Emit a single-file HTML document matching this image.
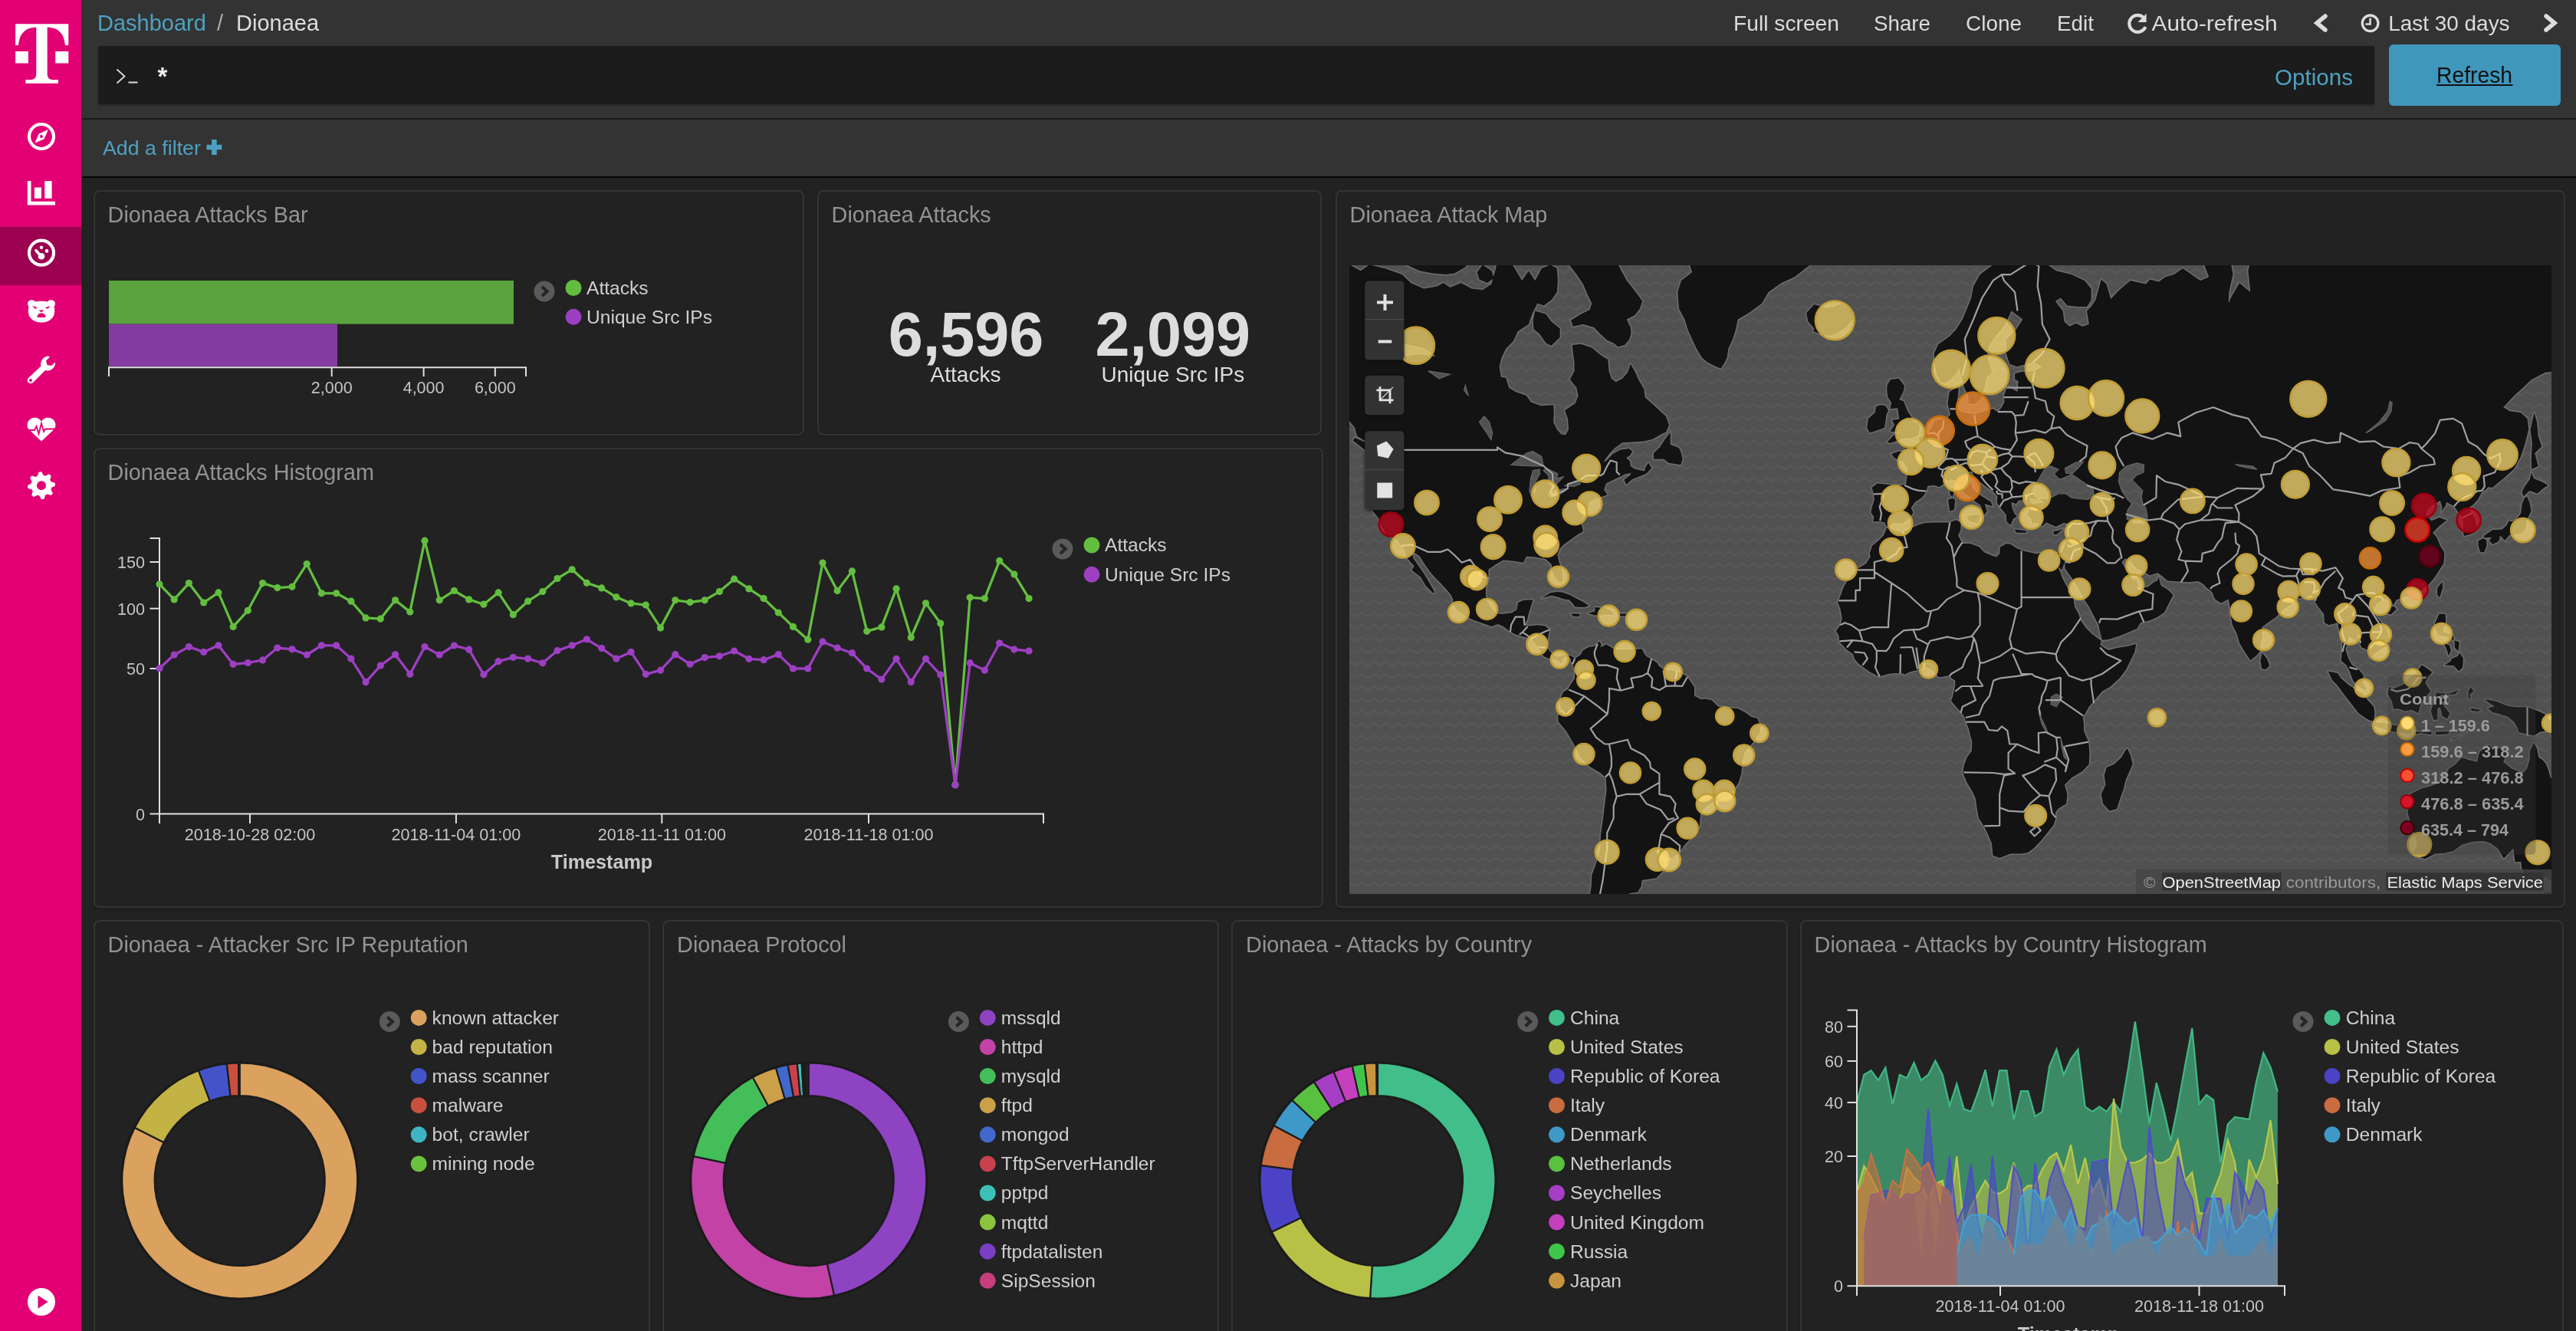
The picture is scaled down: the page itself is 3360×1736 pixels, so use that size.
<!DOCTYPE html><html><head><meta charset="utf-8"><style>html,body{margin:0;padding:0;background:#222;width:3360px;height:1736px;overflow:hidden;font-family:"Liberation Sans", sans-serif} svg{will-change:transform}</style></head><body>
<div style="position:absolute;left:122px;top:248px;width:927.0999999999999px;height:320.1px;box-sizing:border-box;border:2px solid #343434;border-radius:8px;background:#222;box-shadow:0 2px 3px rgba(0,0,0,0.18)"></div>
<div style="position:absolute;left:1066.1px;top:248px;width:657.7px;height:320.1px;box-sizing:border-box;border:2px solid #343434;border-radius:8px;background:#222;box-shadow:0 2px 3px rgba(0,0,0,0.18)"></div>
<div style="position:absolute;left:1742px;top:248px;width:1604.4px;height:935.9000000000001px;box-sizing:border-box;border:2px solid #343434;border-radius:8px;background:#222;box-shadow:0 2px 3px rgba(0,0,0,0.18)"></div>
<div style="position:absolute;left:122px;top:584px;width:1603.6px;height:599.9000000000001px;box-sizing:border-box;border:2px solid #343434;border-radius:8px;background:#222;box-shadow:0 2px 3px rgba(0,0,0,0.18)"></div>
<div style="position:absolute;left:122px;top:1200.1px;width:725.9px;height:599.9000000000001px;box-sizing:border-box;border:2px solid #343434;border-radius:8px;background:#222;box-shadow:0 2px 3px rgba(0,0,0,0.18)"></div>
<div style="position:absolute;left:863.9px;top:1200.1px;width:726.0000000000001px;height:599.9000000000001px;box-sizing:border-box;border:2px solid #343434;border-radius:8px;background:#222;box-shadow:0 2px 3px rgba(0,0,0,0.18)"></div>
<div style="position:absolute;left:1605.9px;top:1200.1px;width:725.9000000000001px;height:599.9000000000001px;box-sizing:border-box;border:2px solid #343434;border-radius:8px;background:#222;box-shadow:0 2px 3px rgba(0,0,0,0.18)"></div>
<div style="position:absolute;left:2348px;top:1200.1px;width:996px;height:599.9000000000001px;box-sizing:border-box;border:2px solid #343434;border-radius:8px;background:#222;box-shadow:0 2px 3px rgba(0,0,0,0.18)"></div>
<svg style="position:absolute;left:1760px;top:346px" width="1568" height="820" viewBox="0 0 1568 820" font-family='"Liberation Sans", sans-serif'><defs><pattern id="wv" width="16" height="16" patternUnits="userSpaceOnUse"><rect width="16" height="16" fill="#515151"/><polyline points="-8,10 0,5 8,10 16,5 24,10" fill="none" stroke="#575757" stroke-width="3"/></pattern></defs><rect width="1568" height="820" fill="url(#wv)"/><path d="M-232.7,-99.4L-33.6,-99.4L-22.2,-2.5L-10.8,5.7L-2.3,-2.5L14.8,7.3L26.1,-0.8L46.0,4.1L68.8,12.1L80.2,23.0L97.2,30.6L114.3,27.6L122.8,23.0L131.4,29.1L145.6,23.0L159.8,30.6L174.0,32.1L185.4,24.6L191.1,4.1L196.8,-30.1L205.3,-39.1L211.0,-4.2L216.7,5.7L225.2,19.9L233.8,7.3L242.3,19.9L250.8,4.1L262.2,-0.8L270.8,4.1L271.9,19.9L270.8,35.1L263.4,45.4L253.7,52.5L245.2,49.7L238.3,63.7L233.8,77.1L219.6,86.3L213.9,98.9L204.2,108.8L198.5,120.7L195.7,132.2L197.9,145.7L204.2,146.7L208.2,159.7L216.7,164.9L230.9,170.1L236.6,178.3L249.7,183.3L266.2,182.3L266.8,192.2L266.2,204.6L270.8,214.0L276.4,220.4L282.1,221.3L286.1,214.0L285.0,199.9L281.0,189.2L294.6,180.3L298.6,170.1L296.4,159.7L287.8,148.9L293.5,137.9L293.5,126.5L291.8,114.8L290.7,103.9L302.0,102.7L316.3,107.5L327.6,117.1L337.3,123.0L338.5,137.9L341.9,147.8L347.6,152.2L356.1,147.8L362.9,140.1L366.9,128.8L373.2,140.1L377.1,148.9L384.5,161.8L385.7,172.2L395.9,181.3L404.4,189.2L413.0,197.0L417.0,208.4L413.0,217.7L408.4,219.5L395.9,226.7L384.5,229.4L373.2,230.3L356.1,231.2L346.4,238.2L339.0,246.0L331.6,256.2L335.0,255.3L343.6,246.0L353.2,240.8L364.6,239.1L369.2,242.6L365.8,248.6L361.2,251.1L365.8,255.3L366.9,262.0L371.4,265.3L378.3,266.9L385.1,268.5L386.2,263.6L390.2,257.8L394.2,264.5L387.4,271.8L376.0,276.6L369.2,279.0L361.2,286.1L358.4,279.8L365.8,274.2L368.0,271.0L359.5,272.6L353.2,275.8L344.7,279.8L335.0,284.6L332.2,293.1L336.7,299.3L332.8,300.8L325.9,303.1L320.2,305.3L313.4,308.4L311.7,316.5L308.3,320.9L307.2,323.8L304.3,331.1L302.0,335.4L304.3,343.1L304.9,347.3L298.6,350.8L290.7,356.3L280.4,363.8L274.7,369.2L271.3,377.8L274.2,389.0L278.2,400.0L278.7,409.5L275.9,413.9L269.6,408.9L264.5,400.0L263.9,390.3L256.0,383.1L242.3,380.5L230.9,379.8L227.0,387.7L213.9,385.7L200.8,384.4L192.8,389.0L181.4,396.8L181.4,408.2L178.0,420.8L178.0,431.3L180.9,439.3L186.0,447.8L191.1,453.8L198.5,455.0L212.2,453.2L218.4,449.0L220.1,439.9L227.5,436.8L239.5,436.2L237.2,444.1L233.8,454.4L232.1,462.1L228.7,469.3L234.9,470.5L245.2,469.3L255.4,470.5L261.1,475.2L259.4,484.0L258.2,492.7L258.2,498.5L262.2,504.3L266.2,508.4L272.5,510.7L282.1,507.8L289.5,509.5L294.1,513.0L291.8,518.7L289.0,517.0L289.0,513.0L282.1,510.7L277.0,515.3L277.6,519.9L270.8,514.7L262.8,514.1L253.7,510.1L249.7,505.5L246.3,498.0L240.0,491.0L236.1,486.3L229.2,485.1L216.7,481.6L209.3,477.5L200.8,471.0L194.0,468.1L185.4,471.0L174.0,466.9L159.8,462.1L151.3,457.4L140.5,450.2L134.8,442.3L135.4,436.2L132.5,430.1L128.5,425.1L118.9,414.5L112.6,408.2L105.8,400.6L98.4,390.3L91.6,379.2L81.3,372.5L83.6,382.5L90.4,392.2L97.2,401.9L102.9,411.4L107.5,419.5L111.5,427.0L109.2,427.6L99.5,417.7L93.3,407.0L81.3,397.4L84.7,392.2L75.6,382.5L71.1,370.5L68.2,365.8L61.4,357.7L53.4,352.9L48.3,352.2L44.3,343.8L40.9,337.5L37.5,328.9L30.7,320.9L26.7,309.9L27.8,297.8L27.3,286.9L29.0,264.5L25.6,250.3L25.0,246.0L34.7,248.6L34.1,240.8L23.9,231.2L10.2,223.1L6.8,211.2L-6.9,195.1L-10.8,180.3L-39.3,154.3L-62.0,137.9L-96.2,132.2L-232.7,132.2ZM31.8,246.9L24.4,244.3L14.8,236.5L4.5,228.5L7.4,224.9L21.6,231.2L29.0,238.2L33.0,246.0ZM307.7,-99.4L347.6,-122.1L410.1,-78.1L418.7,-48.5L427.2,-21.2L438.6,-12.6L444.3,0.8L447.1,8.9L432.9,19.9L428.3,35.1L430.0,56.8L437.4,70.5L441.4,83.7L447.1,96.4L452.8,108.8L460.2,120.7L467.0,126.5L478.4,132.2L484.7,134.5L489.8,126.5L492.6,120.7L494.3,108.8L500.0,96.4L504.0,83.7L506.8,70.5L521.1,62.3L538.1,49.7L546.7,35.1L563.7,23.0L580.8,15.2L595.0,4.1L606.4,-4.2L614.9,-39.1L626.3,-99.4L620.6,-232.6L336.2,-232.6ZM222.4,-78.1L307.7,-78.1L324.8,-30.1L344.7,-12.6L353.2,4.1L361.8,19.9L371.4,32.1L382.3,46.8L378.8,56.8L372.6,65.0L361.8,70.5L364.1,75.8L366.9,81.1L367.5,90.1L364.6,97.7L358.9,103.9L350.4,106.3L344.7,101.4L336.2,97.7L327.6,90.1L319.1,81.1L304.9,77.1L291.8,79.8L289.0,71.8L302.0,63.7L313.4,58.1L316.3,49.7L310.6,38.1L304.9,24.6L296.4,12.1L287.8,0.8L273.6,-7.5L253.7,-4.2L239.5,-21.2L228.1,-39.1ZM242.3,59.5L239.5,71.8L240.6,83.7L247.4,88.8L256.5,101.4L263.4,105.1L274.7,93.9L274.7,82.4L263.4,73.2L256.5,63.7ZM174.0,-0.8L185.4,7.3L188.8,16.8L179.7,23.0L169.5,18.4L166.6,8.9ZM63.1,-21.2L64.2,-7.5L74.5,-0.8L91.6,7.3L108.6,10.5L125.7,12.1L137.1,10.5L151.3,2.4L159.8,-9.2L165.5,-21.2ZM418.7,217.7L411.3,227.6L405.6,236.5L397.0,245.1L397.0,252.8L410.1,252.8L416.4,257.8L432.3,260.3L434.6,252.8L432.9,245.1L430.0,238.2L418.7,233.8ZM596.2,62.3L598.4,73.2L606.4,82.4L605.3,86.3L619.5,91.4L629.2,91.4L640.5,86.3L649.1,79.8L657.0,70.5L657.0,62.3L651.3,55.3L642.2,49.7L632.0,53.9L620.6,55.3L606.4,51.1ZM251.1,434.1L262.2,427.3L270.8,426.1L277.6,426.4L287.8,430.1L296.9,435.0L304.3,438.7L312.6,444.1L306.6,445.9L294.6,445.6L291.2,441.1L286.7,436.2L279.9,435.6L271.3,432.5L263.9,430.7ZM320.2,445.9L333.3,447.2L340.7,450.2L345.3,454.4L343.0,456.2L333.3,455.6L327.6,456.8L319.1,456.2L311.1,453.8L320.2,451.4ZM289.0,454.4L300.3,454.4L300.3,458.0L292.4,458.0ZM352.1,454.4L361.2,454.4L360.6,457.4L352.1,457.4ZM294.1,513.0L302.0,507.8L304.9,502.0L312.3,498.0L320.2,496.8L326.5,490.4L328.8,495.1L327.1,498.5L335.0,494.5L338.5,496.2L346.4,501.4L357.8,500.9L370.3,500.9L381.7,500.3L384.0,505.5L387.4,510.1L393.1,513.0L401.6,518.7L403.9,522.7L410.1,527.3L421.5,528.4L428.9,530.2L440.3,535.9L450.0,550.1L450.0,561.5L458.5,566.1L464.2,565.5L472.7,567.2L481.2,575.7L495.5,577.4L506.8,578.0L515.4,582.6L523.9,588.8L532.4,591.1L536.4,601.4L535.3,610.0L529.6,618.7L522.2,627.4L515.4,636.1L512.5,647.8L511.4,662.6L508.0,674.6L501.7,683.7L495.5,692.9L486.9,696.0L478.4,699.1L467.0,705.3L458.5,713.5L456.8,730.8L448.8,743.8L438.0,755.2L430.6,765.3L422.1,773.6L413.0,771.5L405.6,770.1L401.6,768.8L409.0,774.3L411.8,783.4L407.3,791.9L400.5,799.2L381.7,802.1L380.6,810.2L376.0,817.7L364.6,819.2L367.5,829.1L347.6,890.9L347.6,937.7L319.1,918.4L313.4,848.8L315.1,825.2L314.0,819.9L315.7,810.2L316.3,795.5L320.2,784.8L323.7,774.3L327.1,760.6L328.2,740.5L331.1,721.1L333.3,702.2L335.6,683.7L334.5,668.6L328.2,662.6L313.4,653.7L300.9,641.9L295.8,630.3L289.5,618.7L282.7,607.2L273.0,595.7L271.9,588.3L277.6,580.9L274.2,574.0L274.7,567.2L278.7,556.9L285.0,553.0L288.4,547.3L294.1,538.7L294.1,527.3L291.2,520.4L291.8,518.7ZM918.2,374.5L910.8,372.5L904.5,374.5L896.5,376.5L879.5,372.5L870.9,369.2L862.4,363.8L857.3,363.1L848.7,367.8L848.2,375.9L844.2,380.5L839.6,379.2L828.3,374.5L821.4,367.2L809.5,363.1L799.8,363.1L797.5,359.0L794.1,352.2L797.5,345.2L797.5,335.4L792.4,332.5L790.2,332.5L782.8,335.4L774.2,335.4L762.8,335.4L751.5,336.1L742.9,338.2L731.6,343.1L721.9,348.0L713.9,346.6L704.2,342.4L700.8,343.1L696.9,352.2L691.2,358.3L682.1,365.8L678.6,375.9L679.8,379.8L674.1,389.0L663.3,395.5L658.2,400.6L651.9,408.2L645.7,417.7L643.4,422.7L641.1,430.1L637.1,439.3L640.5,448.4L642.8,460.4L640.5,469.3L634.8,476.9L638.8,484.0L638.8,491.0L643.4,495.6L649.1,501.4L657.0,507.2L658.7,513.0L663.3,518.7L670.7,524.4L678.6,530.2L690.6,536.4L703.1,533.0L711.6,531.9L723.0,532.4L723.0,534.2L731.6,530.2L741.2,527.9L748.6,525.6L753.7,525.0L762.8,530.2L768.5,537.0L771.4,537.0L777.1,535.9L782.8,535.3L785.6,538.7L790.2,541.6L790.2,548.4L788.4,555.8L787.3,561.5L785.0,568.3L791.3,575.7L798.1,583.1L802.1,588.8L804.4,595.7L807.8,604.3L809.5,611.8L812.3,621.6L811.8,633.2L805.5,641.9L801.5,653.1L800.4,662.6L805.5,674.6L812.9,686.8L816.9,696.0L818.6,708.5L820.9,721.1L827.7,731.4L832.2,740.5L837.9,753.8L839.1,766.0L839.6,770.1L848.2,772.9L862.4,767.4L876.6,767.4L885.2,766.0L892.6,760.6L902.2,750.5L910.2,740.5L918.2,730.8L921.6,721.1L921.0,713.5L925.0,708.5L935.2,702.2L936.4,689.8L932.9,677.7L942.0,668.6L956.3,659.7L964.8,650.8L965.4,636.1L964.2,621.6L958.0,607.2L958.0,598.6L956.8,590.0L960.2,584.3L964.8,575.7L972.2,567.2L981.9,555.8L992.1,550.1L1004.6,538.7L1013.2,527.3L1018.8,515.8L1024.5,504.3L1026.2,493.9L1016.0,496.8L1001.8,499.1L990.4,502.0L984.7,499.1L979.6,495.1L980.7,489.8L968.8,481.1L960.2,472.2L954.0,463.3L951.1,454.4L946.0,445.3L944.3,433.2L936.9,420.8L930.1,408.2L926.7,398.7L919.3,383.1ZM1014.9,630.3L1018.8,639.0L1021.7,650.8L1017.7,659.7L1012.6,671.6L1009.7,683.7L1005.2,696.0L1001.2,709.1L991.5,711.6L983.0,702.2L980.7,689.8L986.4,677.7L984.7,665.6L987.6,654.9L997.8,650.8L1006.9,641.9L1012.0,633.2ZM919.3,383.1L921.6,390.3L929.0,397.4L931.2,392.2L933.2,385.7L933.5,395.5L942.6,408.2L950.6,420.8L956.8,433.2L964.8,445.3L971.1,457.4L977.3,469.3L979.0,478.1L981.9,488.7L990.4,488.1L1004.6,483.4L1013.2,479.9L1027.4,474.0L1031.9,466.3L1044.4,463.3L1054.7,458.6L1063.2,452.6L1068.3,442.3L1074.6,430.1L1067.8,423.3L1058.7,417.7L1055.3,405.7L1054.1,411.4L1050.1,412.7L1041.6,419.5L1030.2,420.8L1027.9,414.5L1026.2,408.2L1023.4,411.4L1018.8,405.1L1012.0,395.5L1007.5,387.0L1012.0,382.5L1018.8,385.7L1026.2,395.5L1035.9,400.0L1044.4,404.4L1054.1,401.2L1059.8,405.1L1067.2,411.4L1084.3,412.7L1095.6,413.3L1107.0,412.0L1113.8,415.8L1118.4,420.8L1123.0,423.9L1125.8,427.0L1126.9,430.7L1129.8,436.2L1137.2,440.5L1146.8,435.6L1148.6,445.3L1148.6,452.0L1152.0,469.3L1157.7,481.1L1161.1,492.7L1167.9,504.3L1175.3,515.3L1183.8,508.4L1188.4,502.6L1188.9,492.7L1191.2,484.0L1190.1,472.2L1198.0,466.3L1208.3,459.2L1218.0,449.6L1228.8,442.3L1230.5,436.2L1237.9,434.4L1246.4,433.2L1254.9,430.1L1258.9,438.0L1263.5,445.3L1270.9,454.4L1272.0,466.3L1277.7,469.3L1289.1,466.3L1290.8,475.2L1295.3,489.8L1294.8,504.3L1293.6,515.8L1300.4,521.6L1305.0,530.2L1309.0,541.6L1315.8,549.0L1323.8,554.1L1327.2,552.4L1322.6,544.4L1322.6,534.2L1315.8,526.2L1307.8,521.6L1303.3,513.0L1299.3,501.4L1302.7,489.8L1304.4,484.0L1309.0,488.1L1317.5,491.6L1320.4,498.5L1327.8,501.4L1330.6,510.1L1331.7,512.4L1340.3,504.3L1344.8,501.4L1355.1,495.6L1356.2,486.9L1353.4,475.2L1346.0,466.3L1339.1,457.4L1336.3,448.4L1341.4,440.5L1348.8,436.2L1358.5,435.6L1361.3,443.5L1365.9,436.2L1380.1,431.9L1391.5,428.2L1398.9,423.9L1406.8,417.7L1414.8,408.2L1421.0,398.7L1427.3,389.0L1428.4,377.2L1427.3,372.5L1422.8,365.8L1418.8,355.6L1413.1,348.7L1421.6,340.3L1431.3,332.5L1421.6,328.9L1411.4,333.2L1404.6,325.3L1406.8,318.7L1414.2,312.8L1422.8,306.9L1425.6,316.5L1423.9,321.7L1429.6,314.3L1431.3,309.1L1441.0,314.3L1446.6,322.4L1451.8,329.6L1452.9,336.1L1452.9,348.7L1454.0,352.9L1462.6,350.8L1468.8,348.0L1471.1,341.7L1468.8,331.1L1464.9,323.8L1459.7,316.5L1465.4,312.8L1472.2,305.3L1477.4,295.4L1482.5,292.4L1485.3,289.3L1491.0,290.0L1505.2,278.2L1518.9,266.1L1528.0,249.4L1533.7,232.1L1538.2,214.0L1536.5,199.9L1528.0,192.2L1513.8,190.2L1505.2,185.3L1519.5,170.1L1542.2,148.9L1559.3,140.1L1576.4,137.9L1644.6,137.9L1644.6,-172.8L1303.3,-172.8L1189.5,-39.1L1178.1,-21.2L1172.4,7.3L1175.3,35.1L1161.1,23.0L1149.7,42.5L1146.8,49.7L1147.4,35.1L1152.5,12.1L1146.8,-21.2L1132.6,-58.1L1115.6,0.8L1121.2,15.2L1109.9,19.9L1087.1,4.1L1075.7,12.1L1064.4,15.2L1055.8,21.5L1044.4,18.4L1038.8,24.6L1018.8,19.9L1004.6,32.1L993.2,43.9L987.6,24.6L980.7,18.4L973.3,45.4L967.6,53.9L962.0,59.5L964.8,77.1L956.3,79.8L947.7,75.8L939.2,79.8L932.4,73.2L930.7,59.5L925.0,52.5L921.0,46.8L927.8,42.5L936.4,52.5L950.6,53.9L962.0,53.9L967.6,45.4L967.6,30.6L959.1,19.9L942.0,12.1L922.1,7.3L910.8,-0.8L899.4,-12.6L876.6,-24.7L853.9,-12.6L839.6,-0.8L822.6,12.1L814.0,27.6L811.2,42.5L805.5,56.8L799.8,70.5L791.3,83.7L782.8,92.7L768.5,102.7L762.8,114.8L764.0,132.2L766.3,143.4L771.4,152.2L777.1,154.3L785.6,147.8L792.4,141.2L794.7,133.4L797.5,142.3L799.8,151.1L802.1,159.7L807.2,170.1L807.8,180.3L815.2,181.3L824.3,173.2L828.8,159.7L830.5,147.8L838.5,139.0L834.0,126.5L832.2,114.8L835.7,102.7L845.3,90.1L855.6,77.1L863.5,59.5L878.3,70.5L869.8,83.7L856.7,96.4L856.7,114.8L861.3,128.8L870.9,132.2L892.0,126.5L903.9,132.2L893.7,137.9L876.6,139.0L868.1,141.2L868.1,148.9L872.6,151.1L871.5,164.9L862.4,159.7L858.4,157.5L853.9,170.1L854.4,178.3L851.0,185.3L845.9,191.2L839.6,187.3L828.3,190.2L815.8,194.1L805.5,193.1L797.0,190.2L791.3,185.3L794.1,170.1L794.7,157.5L782.8,164.9L780.5,180.3L783.9,195.1L779.9,198.9L773.1,199.9L762.8,202.7L759.4,212.1L754.3,218.6L748.6,222.2L743.5,224.0L742.9,231.2L735.0,235.6L731.6,238.2L727.0,234.7L723.6,234.7L725.9,243.4L717.3,242.6L707.1,246.0L710.5,251.1L721.9,256.2L727.6,264.5L727.6,274.2L725.9,286.1L717.3,286.9L703.1,286.1L688.9,284.6L681.5,290.0L683.8,297.8L684.9,305.3L681.5,316.5L680.4,322.4L684.3,328.2L683.2,334.6L691.7,333.9L698.6,335.4L699.1,338.2L702.5,341.7L709.4,336.8L721.9,336.8L730.4,330.4L735.5,322.4L732.7,316.5L737.8,309.1L746.9,303.1L752.6,295.4L754.3,287.7L762.8,286.9L769.7,289.3L775.9,284.6L784.5,279.0L792.4,282.2L798.1,293.9L811.2,303.8L816.9,308.4L823.1,312.8L826.0,320.2L823.1,327.5L826.0,328.2L831.7,320.9L828.8,311.3L839.1,314.3L836.8,308.4L825.4,301.6L820.9,298.5L813.5,290.8L811.2,285.3L804.4,278.2L804.4,271.0L812.3,268.5L814.0,274.2L821.4,281.4L830.0,288.5L839.6,294.7L845.3,301.6L844.8,309.9L849.3,316.5L856.7,325.3L857.3,334.6L862.4,338.9L865.8,331.1L870.9,327.5L867.5,323.8L864.1,315.1L863.5,309.1L869.8,311.3L872.6,306.9L882.3,306.1L883.4,312.8L886.9,320.2L884.0,325.3L889.1,331.1L890.8,336.8L898.2,336.1L903.9,340.3L909.0,335.4L921.6,341.0L931.8,336.1L940.3,337.5L938.6,343.1L938.6,352.2L934.6,360.4L931.8,369.2L929.0,373.9L922.1,375.2L918.2,374.5ZM716.8,147.8L724.2,157.5L722.5,164.9L717.3,175.2L723.0,177.3L727.6,189.2L733.8,198.9L736.1,204.6L742.9,205.6L744.1,214.0L742.4,219.5L741.8,222.2L735.5,224.9L727.6,225.8L720.2,226.7L712.8,229.4L704.8,232.1L702.0,230.3L710.5,221.3L717.3,217.7L705.4,216.7L711.1,208.4L708.2,201.8L717.3,200.8L716.2,193.1L715.1,186.3L705.4,187.3L707.1,179.3L702.5,172.2L701.4,164.9L701.4,156.5L706.0,148.9ZM692.9,182.3L687.2,184.3L685.5,192.2L676.9,199.9L675.2,212.1L678.6,218.6L687.2,215.8L698.0,212.1L699.7,201.8L700.3,195.1L703.1,189.2L699.1,183.3ZM786.7,303.8L790.2,306.1L789.0,318.7L783.3,320.9L782.2,313.6L781.0,306.1ZM787.9,290.0L788.7,294.7L786.7,302.3L783.3,298.5L783.3,293.1ZM823.1,325.3L820.3,336.8L808.4,333.9L804.9,328.2L810.6,326.0ZM868.7,344.5L884.0,346.6L882.3,348.7L870.9,348.7L868.1,346.6ZM931.2,343.8L922.1,351.5L918.7,350.8L918.2,347.3L925.0,345.9ZM1536.0,301.6L1539.4,309.1L1541.7,320.2L1536.5,331.1L1534.8,341.7L1533.1,346.6L1529.7,349.4L1520.6,351.5L1513.8,351.5L1507.0,359.0L1502.4,353.5L1493.9,354.2L1480.8,355.6L1479.6,352.9L1491.0,345.2L1503.5,344.5L1509.2,339.6L1512.6,333.2L1516.1,334.6L1522.3,331.1L1528.0,323.8L1529.7,311.3L1532.6,303.8ZM1479.1,356.3L1472.8,359.0L1472.2,364.5L1475.1,373.9L1480.2,374.5L1483.6,365.8L1483.1,358.3ZM1491.0,353.5L1500.1,353.5L1500.7,357.0L1497.8,361.1L1491.0,363.8L1487.0,359.0ZM1541.7,270.2L1545.1,278.2L1555.3,282.2L1563.8,286.9L1557.6,290.8L1549.6,297.8L1539.4,293.9L1531.4,301.6L1529.7,295.4L1533.1,288.5L1539.9,279.0ZM1545.6,192.2L1549.0,204.6L1550.8,223.1L1555.3,236.5L1546.2,245.1L1550.8,262.0L1542.2,266.1L1541.7,253.6L1542.8,232.1L1540.5,214.0ZM1425.6,412.7L1426.2,420.8L1422.2,433.2L1418.8,429.5L1419.3,420.8ZM1362.5,444.7L1365.9,448.4L1358.5,455.6L1352.8,453.8L1355.6,446.5ZM1190.6,505.5L1196.9,513.0L1200.3,522.2L1195.2,527.3L1190.1,526.2L1188.4,515.8ZM1421.6,454.4L1429.6,455.0L1430.2,466.3L1426.2,477.5L1439.8,482.8L1440.4,489.2L1432.4,485.1L1420.5,482.2L1416.5,475.2L1415.9,467.5ZM1448.4,505.5L1452.9,512.4L1452.3,524.4L1447.2,529.6L1440.4,522.2L1428.4,521.6L1435.8,517.0L1438.1,513.0L1445.5,510.1ZM1441.5,489.2L1447.8,491.6L1446.6,503.2L1442.1,499.1ZM1427.9,493.3L1434.7,495.6L1437.0,502.0L1434.1,509.5L1431.3,500.9ZM1398.9,521.6L1394.3,527.3L1389.8,533.0L1382.9,535.9L1377.2,545.6L1361.9,552.4L1356.2,550.1L1354.5,558.7L1360.2,570.0L1361.9,578.6L1368.7,578.6L1377.2,581.4L1385.8,579.7L1394.3,584.3L1397.2,572.9L1400.6,567.2L1410.2,555.8L1408.5,553.0L1403.4,544.4L1407.4,536.4L1412.5,530.7L1404.0,524.4ZM1276.6,529.6L1289.1,531.9L1293.6,538.7L1303.3,547.3L1311.8,553.0L1322.6,558.7L1328.3,567.2L1336.3,575.7L1337.4,584.3L1336.3,595.1L1328.9,592.8L1316.4,584.3L1307.8,572.9L1298.7,561.5L1289.6,549.0L1281.7,540.4ZM1337.4,595.7L1350.5,596.8L1363.0,600.3L1375.0,600.8L1385.8,605.4L1385.2,611.2L1365.9,608.9L1351.6,606.0L1339.7,602.0L1333.4,599.7ZM1388.6,607.7L1389.8,611.8L1397.7,610.0L1411.4,612.3L1411.4,608.3L1398.9,608.9ZM1417.1,608.3L1417.1,612.3L1434.1,611.2L1434.1,608.3ZM1458.0,608.9L1448.4,612.9L1437.0,620.4L1441.0,616.4L1454.0,610.0ZM1446.6,554.1L1434.1,558.7L1421.6,558.1L1418.2,556.9L1415.9,564.3L1410.8,581.4L1414.2,592.8L1419.3,592.8L1419.3,578.6L1422.8,576.3L1425.6,587.7L1431.9,591.7L1435.3,584.3L1428.4,575.7L1424.5,570.0L1435.3,567.2L1425.6,565.5L1422.8,560.4L1442.7,559.2ZM1462.6,550.1L1466.6,555.8L1461.4,559.8L1462.6,566.1L1459.7,564.3L1459.7,555.8ZM1462.6,577.4L1476.8,580.3L1471.1,582.0L1463.7,580.9ZM1481.4,566.1L1496.7,568.9L1509.8,574.6L1520.6,576.3L1536.5,576.3L1550.8,581.4L1559.3,585.4L1565.0,592.8L1587.7,595.7L1587.7,624.5L1567.8,607.2L1553.6,608.3L1545.1,613.5L1525.2,608.9L1524.0,604.3L1519.5,595.7L1510.9,588.8L1496.7,584.3L1491.0,583.1L1485.3,577.4L1493.9,575.2L1485.3,570.0ZM1545.1,622.7L1539.9,633.2L1539.4,644.9L1536.0,656.7L1530.8,662.6L1516.6,656.7L1505.2,647.8L1510.9,633.2L1502.4,630.3L1491.0,630.3L1486.5,625.6L1479.6,631.4L1475.7,633.2L1472.8,639.0L1471.1,647.8L1459.7,644.9L1451.2,641.9L1442.7,650.8L1434.1,656.7L1429.6,665.6L1422.8,674.6L1410.2,679.5L1398.3,682.5L1384.1,689.8L1380.1,702.2L1380.7,714.8L1384.1,727.5L1388.6,740.5L1392.6,753.8L1388.6,764.7L1389.8,770.1L1402.8,774.3L1416.5,767.4L1428.4,766.7L1439.8,764.0L1451.2,755.8L1465.4,751.8L1479.6,751.1L1488.2,753.8L1497.8,760.6L1505.8,773.6L1518.3,760.6L1519.5,770.8L1520.6,778.5L1528.0,777.8L1529.7,788.4L1535.4,795.5L1545.1,798.4L1551.3,801.3L1556.4,797.0L1562.1,799.2L1567.3,803.5L1587.7,795.5L1587.7,671.6L1566.7,668.6L1564.4,659.7L1561.0,650.8L1556.4,644.9L1551.3,641.9L1549.0,630.3ZM1557.6,815.4L1566.7,817.7L1578.1,816.9L1576.4,840.8L1559.3,840.8Z" fill="#131313" stroke="#6c6c6c" stroke-width="3.2" stroke-linejoin="round" paint-order="stroke"/><path d="M1027.4,257.8L1013.2,262.0L1004.6,270.2L1003.5,282.2L1007.5,293.9L1014.9,305.3L1020.6,310.6L1014.9,320.2L1014.3,331.1L1024.5,336.1L1040.5,335.4L1041.0,327.5L1038.8,316.5L1034.8,310.6L1033.1,301.6L1034.8,293.9L1021.1,279.8L1026.2,274.2L1035.9,270.2L1036.5,260.3ZM909.0,262.0L903.4,271.8L897.1,282.2L891.4,293.1L894.3,300.8L899.9,304.6L913.6,303.8L925.0,297.8L934.6,297.8L942.0,303.1L953.4,304.6L963.7,305.3L971.1,300.8L970.5,293.1L962.0,286.1L950.6,278.2L942.6,272.6L927.8,279.0L925.0,278.2L919.3,271.8L925.0,266.1L915.3,262.0ZM933.5,264.5L947.7,257.0L957.4,256.2L950.6,264.5L942.6,271.8L934.6,271.0ZM888.0,305.3L899.4,305.3L904.5,309.1L890.8,310.6ZM211.0,260.3L219.6,253.6L230.9,245.1L239.5,242.6L250.8,249.4L253.1,262.0L239.5,262.0L222.4,261.2ZM248.0,266.1L239.5,267.7L236.6,278.2L234.9,293.9L237.2,300.8L243.4,293.9L242.9,282.2L248.6,271.8ZM256.5,264.5L271.9,271.8L270.2,278.2L279.3,275.8L269.6,286.1L265.6,290.0L259.9,282.2L259.9,274.2L253.1,267.7ZM285.5,290.8L276.4,297.8L263.9,302.3L259.9,300.0L265.1,295.4L271.9,293.1ZM280.4,287.7L293.5,288.5L301.5,285.3L299.2,280.6L287.8,284.6ZM922.1,559.2L930.1,563.2L927.8,567.2L922.1,575.7L915.3,572.9L915.3,563.2ZM901.1,580.3L902.2,590.0L907.9,601.4L911.3,611.2L909.6,610.0L903.4,598.6L900.5,588.3ZM927.8,615.8L930.7,627.4L935.2,644.3L932.4,641.9L929.0,627.4ZM1357.3,177.3L1354.5,190.2L1343.1,204.6L1326.0,218.6L1331.7,215.8L1351.6,202.7L1359.0,190.2L1360.2,179.3ZM1155.4,259.5L1178.1,262.0L1183.8,266.1L1172.4,264.5L1161.1,262.0ZM31.8,42.5L57.4,51.1L60.3,63.7L46.0,70.5L31.8,59.5ZM68.8,102.7L97.2,108.8L111.5,118.3L91.6,114.8L74.5,118.3ZM175.8,197.0L182.6,204.6L186.6,218.6L184.9,227.6L179.2,218.6L169.5,204.6ZM102.9,137.9L131.4,142.3L117.2,147.8ZM151.3,156.5L155.3,170.1L149.6,162.8Z" fill="url(#wv)" stroke="#666" stroke-width="1.2"/><path d="M33.0,240.8L193.1,240.8L193.1,237.3L203.1,244.3L224.7,248.6L233.8,252.8L253.7,262.0L265.1,271.8L265.6,290.0L261.7,295.4L265.1,300.0L280.4,293.9L285.0,290.8L285.0,285.3L299.8,280.6L309.4,274.2L327.6,274.2L331.6,271.8L336.2,262.0L340.7,254.5L348.7,257.0L348.7,269.4L352.7,273.4M68.2,365.8L81.9,364.5L102.9,373.9L118.9,373.9L128.5,370.5L137.6,378.5L146.7,387.7L157.5,383.8L162.7,390.9L168.4,398.7L172.3,405.7L181.7,408.6M209.9,478.1L211.0,469.3L216.7,458.6L227.5,458.6L228.7,469.9M232.6,471.0L225.8,478.7L221.8,481.6M225.8,478.7L234.9,484.6L237.8,486.9L248.0,481.1L261.1,475.2M246.9,498.0L258.2,499.1M262.8,515.8L264.5,507.2M294.1,513.0L291.2,520.4M323.7,493.9L319.7,504.3L320.2,510.1L324.8,521.6L336.2,521.6L350.4,526.2L348.7,538.7L353.8,554.7M353.8,554.7L370.3,550.1L367.5,538.7L381.7,535.9L389.1,531.9L394.2,513.0M389.1,531.9L395.3,538.7L394.2,550.1L404.4,554.1L413.0,549.0L424.4,548.4L434.0,549.0L440.9,537.0M413.0,549.0L409.6,528.4M424.4,548.4L427.2,529.0M353.8,554.7L339.0,551.8L339.0,567.2L336.7,585.4M336.7,585.4L324.8,575.7L306.6,562.1M306.6,562.1L286.1,553.5M306.6,562.1L299.2,570.0L287.8,580.9L282.1,587.1L277.6,580.9M336.7,585.4L314.6,604.3L322.0,615.8L333.3,624.5L339.0,624.5M339.0,624.5L341.9,641.9L341.9,653.7L339.0,662.6L333.9,667.4M339.0,624.5L362.9,618.7L367.5,630.3L384.5,639.0L391.9,647.8L393.1,655.5L404.4,663.2L404.4,674.6M404.4,674.6L378.8,689.8L361.8,689.8L348.7,692.9M339.0,662.6L343.0,671.6L346.4,683.7L348.7,692.9L344.7,705.3L344.7,721.1L336.2,740.5L336.2,760.6L333.3,781.3L330.5,802.8L325.9,825.2M378.8,689.8L387.4,702.2L406.2,710.3L415.8,723.0L423.8,721.1M404.4,674.6L404.4,689.8L418.7,692.9L425.5,702.2L423.8,711.6M423.8,711.6L428.9,721.1L417.0,727.5L406.7,741.9M406.7,741.9L418.1,746.5L431.2,757.2L430.6,765.3M406.7,741.9L402.2,767.4M721.9,348.0L724.7,355.6L727.6,367.8L717.9,368.5L713.4,375.9L703.1,382.5L684.9,387.0L684.9,397.4L684.9,400.0L684.9,408.2L666.1,408.2L666.1,423.9L660.4,423.9L660.4,437.4L638.3,437.4M659.3,397.4L684.9,397.4M684.9,400.0L707.1,414.5L727.6,428.2L739.5,439.3L753.2,451.4L758.9,450.8L767.4,448.4L779.9,435.6L802.1,423.9L792.4,418.9L792.4,408.2L790.2,395.5L788.4,381.1L785.6,365.8L778.8,355.6L781.6,345.2L783.3,335.4M788.4,381.1L794.1,369.2L799.8,361.1M707.1,414.5L703.1,466.3L703.1,472.2L681.5,472.2L671.8,475.2L665.0,476.4L654.8,469.3L646.2,466.3L640.5,469.3M665.0,476.4L669.5,490.4L682.1,493.9L687.8,502.6L700.3,503.2L704.2,498.5L709.9,486.9L723.0,476.4L735.5,475.2L742.9,475.2L754.3,470.5L758.9,450.8M735.5,475.2L740.1,486.9L747.5,490.4L754.9,494.5L757.7,489.8L779.9,484.6L794.1,487.5L811.8,484.0L822.6,469.3L822.6,442.3L819.7,427.0L802.1,423.9M819.7,427.0L870.9,448.4L876.6,445.3L876.6,433.2L876.6,372.5M876.6,433.2L944.3,433.2M870.9,448.4L865.2,472.2L861.3,486.9L864.1,499.1L848.2,510.1L828.3,518.1L822.6,518.7L819.7,504.3L817.5,492.7L814.6,486.3L811.8,484.0M814.6,486.3L811.2,501.4L803.8,513.0L799.8,524.4L785.0,533.0L782.8,535.9M754.9,494.5L749.8,510.1L749.8,525.0M739.5,498.5L743.5,525.6M734.4,498.0L741.2,526.7M718.5,498.5L734.4,498.0M719.0,507.2L718.5,532.4M687.8,502.6L687.8,515.8L687.2,518.7L686.0,524.4L691.7,536.4M658.7,504.3L671.8,505.5L675.8,513.0L669.5,521.6M669.5,490.4L656.5,489.2L639.4,490.4M656.5,489.2L649.1,498.5M864.1,499.1L882.3,506.6L902.8,504.3L921.6,507.2L928.4,491.6L942.0,478.1L954.0,460.4M921.6,507.2L923.3,515.8L933.5,527.3L938.6,535.3L956.3,541.6L967.6,538.7L981.9,533.0L1006.3,515.8L987.6,507.2L979.0,498.5M967.6,538.7L967.6,547.3L971.1,571.2M927.8,567.2L957.4,587.7M927.8,537.6L927.8,555.8L927.8,567.2M927.8,537.6L910.8,541.6L893.7,535.9L890.3,533.0L876.6,533.0L865.2,506.6M890.3,533.0L870.9,535.9L848.2,538.7L840.2,541.6M822.6,518.7L819.7,538.7L826.6,549.0M840.2,541.6L835.1,561.5L826.6,572.9L821.4,586.0L803.8,590.0M804.4,595.7L828.3,595.7L834.0,606.0L845.3,607.2L851.0,601.4L858.4,607.2L861.3,624.5L870.9,624.5L890.8,633.2L899.4,636.1L898.8,610.0L909.0,608.9M910.8,541.6L907.9,553.0L903.4,561.5L902.2,569.5L899.4,577.4L901.1,587.1M909.0,608.9L921.6,615.8L927.8,615.8M933.5,627.4L964.2,621.6M907.9,567.2L927.8,567.2M870.9,624.5L859.6,636.1L859.6,656.7L868.1,662.6M801.5,661.4L839.6,662.0L853.9,663.8L868.1,662.6L853.9,665.6L848.2,689.8L848.2,707.2L848.2,730.8L828.3,731.4M848.2,707.2L859.6,711.6L879.5,712.9L888.0,702.2L901.1,691.1L890.8,680.7L878.3,665.6L893.7,659.7L907.3,651.4L921.0,656.7L922.1,671.6L912.5,692.3L901.1,691.1M912.5,692.3L916.4,714.1L921.6,720.5M922.1,615.8L923.8,630.3L922.1,641.9L906.2,647.8M922.1,641.9L935.2,653.7L934.1,660.3L938.1,644.9L931.8,627.4M897.1,731.4L901.7,737.3L893.7,744.5L888.0,738.6L897.1,731.4M826.6,549.0L810.1,549.0L798.7,549.0L790.2,555.8M810.1,549.0L816.9,567.2L799.8,575.7L797.5,583.7M799.8,143.4L805.5,120.7L802.7,96.4L814.0,70.5L825.4,42.5L839.6,19.9L851.0,12.1M871.5,59.5L868.1,35.1L853.9,19.9L851.0,12.1L862.4,12.1L888.0,-4.2L899.4,0.8M899.4,0.8L897.7,27.6L902.2,49.7L903.9,77.1L913.6,96.4L903.9,114.8L892.0,126.5M893.7,139.0L890.8,154.3L893.7,164.9L894.8,173.2L907.9,177.3L910.8,190.2L919.3,197.0L915.3,213.1L907.9,218.6L893.7,214.9L879.5,217.7L868.7,218.6M857.3,159.7L889.7,159.7M853.9,172.2L885.7,172.2M885.7,177.3L879.5,195.1L868.1,196.0M845.9,191.2L864.1,191.2L868.1,196.0L869.8,204.6L868.7,218.6L870.9,227.6L863.0,240.8L851.0,239.1L841.9,236.5L836.8,232.1L827.1,227.6L819.7,223.1L817.5,209.3L815.2,195.1M783.3,187.3L790.7,187.3M775.4,201.8L774.2,212.1L768.5,218.6L768.5,224.9L769.1,231.2L770.8,236.5L781.0,240.8L777.6,252.8L785.6,252.0L789.0,253.6L802.7,253.6L808.4,252.0L812.9,244.3L805.5,236.5L803.2,229.4L815.8,224.0L819.7,223.1M753.7,219.5L762.8,218.6L767.4,221.3L768.5,224.9M748.6,222.2L753.2,225.8L758.3,231.2L765.7,236.5L770.8,236.5M777.6,252.8L769.1,262.0L768.5,264.5L774.2,266.9L772.5,274.2L778.2,281.4L777.1,283.8M724.2,286.9L734.4,291.6L742.9,293.9L752.6,294.7M683.8,298.5L697.4,297.8L695.1,305.3L691.7,315.1L694.0,323.8L692.3,333.2M774.2,266.9L782.2,262.8L785.6,266.9L793.6,262.0L794.1,258.7L789.0,253.6M793.6,262.0L803.8,257.8L812.3,261.2L825.4,259.5L828.8,252.0L831.7,249.4L830.5,244.3L819.7,241.7L812.9,244.3M830.5,244.3L841.9,236.5M831.7,249.4L841.4,251.1L851.0,246.9L860.1,245.1L863.0,240.8M860.1,245.1L864.7,249.4L859.6,257.8L849.9,264.5L842.5,266.1L834.0,267.7L828.3,262.0L825.4,259.5M864.7,249.4L873.8,249.4L885.7,250.3L888.0,246.9L894.8,245.1L900.5,253.6L905.1,262.0M885.7,250.3L893.7,257.8L894.8,270.2M863.5,280.6L873.8,284.6L882.3,282.2L897.1,283.8M849.9,264.5L855.6,271.8L862.4,277.4L863.5,280.6L864.7,290.0L861.8,295.4M864.7,302.3L873.8,301.6L884.0,300.0L890.8,297.8L893.7,297.8M884.0,300.0L882.3,306.1M848.2,315.1L853.3,306.9L859.6,304.6L864.7,302.3L861.8,295.4M823.7,266.9L827.1,272.6L824.3,275.8L828.3,281.4L834.0,287.7L839.6,293.1M834.0,267.7L842.5,274.2L845.3,282.2L842.5,288.5L848.2,293.9L851.6,295.4L861.8,295.4M844.2,293.9L845.3,297.8L851.6,298.5L851.6,304.6M915.3,213.1L926.7,211.2L935.8,221.3L950.6,229.4L962.5,235.6L960.8,249.4L952.3,256.2M962.0,286.9L979.0,293.1L993.2,297.8L999.5,298.5L1010.3,303.8M970.5,301.6L979.0,303.1L990.4,305.3L998.9,303.8M979.0,303.1L984.7,312.8L987.6,316.5L989.3,333.9L975.6,333.2L964.8,336.1L950.6,337.5L942.6,336.8L938.6,342.4M975.6,333.2L969.4,341.7L967.1,352.2L955.1,359.7L939.2,367.2L936.9,364.5M955.1,359.7L957.4,367.8L944.9,372.5L939.8,387.7L933.5,387.0M957.4,367.8L973.3,375.9L988.7,388.3L998.9,388.3L1005.8,381.8M989.3,333.9L996.1,345.2L995.0,355.6L997.2,362.4L1004.6,369.2L1007.5,382.5M977.9,466.9L980.2,461.0L1001.8,461.6L1030.2,451.4L1047.3,448.4L1048.4,428.8L1027.9,420.8M1030.2,451.4L1036.5,465.7M1012.6,324.6L1041.6,332.5L1058.7,330.4L1075.7,336.8L1082.6,344.5L1079.1,357.7L1085.4,373.2L1081.4,383.8L1090.0,385.7L1093.9,398.7L1084.8,413.3M1090.0,385.7L1111.6,386.4L1112.7,375.9L1126.9,371.9L1132.6,362.4L1138.3,355.6L1140.6,343.8L1142.9,336.1L1159.9,334.6M1082.6,344.5L1090.0,337.5L1109.9,332.5L1121.2,332.5L1132.6,331.1L1159.9,334.6M1010.3,262.0L1002.9,249.4L999.5,236.5L1007.5,224.9L1021.7,218.6L1035.9,223.1L1047.3,226.7L1067.2,218.6L1084.3,223.1L1081.4,204.6L1104.2,192.2L1126.9,185.3L1152.5,195.1L1172.4,199.9L1189.5,223.1L1209.4,227.6L1231.0,239.1M1231.0,239.1L1220.8,251.1L1206.6,257.8L1202.6,271.8L1188.9,273.4L1192.9,288.5L1190.6,291.6M1190.6,291.6L1158.2,290.8L1132.6,303.1L1115.6,301.6L1081.4,286.1L1064.4,282.2L1053.0,274.2L1052.4,303.1L1035.9,312.8M1132.6,303.1L1124.1,312.8L1121.2,323.8L1109.9,332.5M1115.6,301.6L1081.4,305.3L1061.5,323.8L1058.7,330.4M1152.5,316.5L1132.6,316.5L1125.2,310.6M1231.0,239.1L1243.6,245.1L1252.1,262.0L1266.3,274.2L1283.4,292.4L1303.3,295.4L1331.7,300.8L1346.0,293.9L1370.4,290.0L1368.7,275.8L1382.9,270.2L1397.2,262.0L1415.9,259.5L1414.2,252.0L1398.3,239.1M1231.0,239.1L1240.7,232.1L1257.8,227.6L1274.8,232.1L1291.9,230.3L1293.0,218.6L1317.5,230.3L1337.4,229.4L1348.8,236.5L1368.7,239.1L1382.9,231.2L1394.3,233.0L1398.3,239.1M1398.3,239.1L1404.6,233.0L1415.9,219.5L1422.8,201.8L1439.8,199.9L1451.2,206.5L1459.7,230.3L1471.1,236.5L1479.6,246.0L1488.2,252.0L1500.7,246.0L1501.3,255.3L1493.9,270.2L1479.6,275.0L1480.8,288.5L1477.4,293.9M1477.4,293.9L1471.1,294.7L1463.7,299.3L1455.2,302.3L1445.5,309.1L1441.0,314.3M1451.8,329.6L1459.7,325.3L1464.9,323.1M1190.6,291.6L1178.1,301.6L1155.4,312.8L1160.5,323.8L1159.9,334.6L1177.0,345.2L1183.3,353.5L1185.5,365.8L1186.7,375.9L1195.2,381.1M1195.2,381.1L1212.3,392.2L1226.5,395.5L1239.6,396.1L1254.9,396.1L1269.2,398.7L1286.2,394.2L1295.9,408.2L1290.2,420.8L1296.5,423.9L1299.3,433.2L1309.5,436.2L1313.5,430.1L1326.0,428.2L1334.6,427.0L1346.0,433.2L1348.8,436.2M1195.2,381.1L1190.1,390.9L1208.9,401.9L1218.0,405.7L1235.0,405.1L1239.6,396.1M1240.7,396.1L1243.6,403.2L1257.8,403.2L1254.9,396.1M1155.4,348.7L1156.5,362.4L1161.1,365.8L1158.2,375.9L1152.0,382.5L1135.5,395.5L1132.6,401.9L1135.5,414.5L1125.8,418.9L1123.0,422.0M1235.6,405.7L1237.9,412.7L1239.0,419.5L1240.7,431.9M1245.3,413.3L1257.8,413.3L1259.5,419.5L1257.2,427.6L1265.7,423.3L1261.2,433.2L1259.5,438.0M1286.2,398.7L1272.6,411.4L1265.7,423.3M1303.9,442.9L1289.6,454.4L1295.3,466.3L1294.8,478.1L1298.7,491.6L1295.3,504.3M1309.5,436.2L1303.9,442.9M1303.9,442.9L1310.7,448.4L1309.5,456.2L1318.6,457.4L1328.9,458.6L1334.6,471.0L1332.9,478.7L1320.4,479.3L1316.4,484.6L1319.2,492.7M1315.2,430.7L1320.4,436.2L1328.9,445.3L1335.1,454.4L1340.8,463.3L1346.0,472.2L1346.0,478.1L1337.4,492.7L1328.9,501.4M1332.9,478.7L1346.0,478.1M1304.4,524.4L1315.2,527.3M1357.9,553.0L1365.9,555.8L1380.1,553.0L1387.5,547.3L1393.2,538.7L1404.6,537.6M1536.5,576.3L1536.5,613.5" fill="none" stroke="#a0a0a0" stroke-width="2.2" stroke-linejoin="round"/><circle cx="86.9" cy="104.7" r="24.0" fill="rgb(254,222,118)" fill-opacity="0.75" stroke="rgb(192,158,55)" stroke-width="2.7"/><circle cx="101.0" cy="309.6" r="15.6" fill="rgb(254,222,118)" fill-opacity="0.75" stroke="rgb(192,158,55)" stroke-width="2.7"/><circle cx="54.5" cy="337.9" r="15.6" fill="rgb(200,10,35)" fill-opacity="0.75" stroke="rgb(150,0,15)" stroke-width="2.7"/><circle cx="69.9" cy="365.9" r="15.6" fill="rgb(254,222,118)" fill-opacity="0.75" stroke="rgb(192,158,55)" stroke-width="2.7"/><circle cx="207.0" cy="305.9" r="17.6" fill="rgb(254,222,118)" fill-opacity="0.75" stroke="rgb(192,158,55)" stroke-width="2.7"/><circle cx="183.0" cy="331.1" r="15.6" fill="rgb(254,222,118)" fill-opacity="0.75" stroke="rgb(192,158,55)" stroke-width="2.7"/><circle cx="187.6" cy="367.2" r="15.6" fill="rgb(254,222,118)" fill-opacity="0.75" stroke="rgb(192,158,55)" stroke-width="2.7"/><circle cx="255.7" cy="298.2" r="17.5" fill="rgb(254,222,118)" fill-opacity="0.75" stroke="rgb(192,158,55)" stroke-width="2.7"/><circle cx="309.2" cy="264.9" r="17.8" fill="rgb(254,222,118)" fill-opacity="0.75" stroke="rgb(192,158,55)" stroke-width="2.7"/><circle cx="313.6" cy="311.1" r="15.6" fill="rgb(254,222,118)" fill-opacity="0.75" stroke="rgb(192,158,55)" stroke-width="2.7"/><circle cx="294.2" cy="322.5" r="15.6" fill="rgb(254,222,118)" fill-opacity="0.75" stroke="rgb(192,158,55)" stroke-width="2.7"/><circle cx="255.7" cy="354.8" r="15.0" fill="rgb(254,222,118)" fill-opacity="0.75" stroke="rgb(192,158,55)" stroke-width="2.7"/><circle cx="257.2" cy="364.4" r="15.6" fill="rgb(254,222,118)" fill-opacity="0.75" stroke="rgb(192,158,55)" stroke-width="2.7"/><circle cx="272.6" cy="406.2" r="13.4" fill="rgb(254,222,118)" fill-opacity="0.75" stroke="rgb(192,158,55)" stroke-width="2.7"/><circle cx="159.1" cy="405.8" r="13.7" fill="rgb(254,222,118)" fill-opacity="0.75" stroke="rgb(192,158,55)" stroke-width="2.7"/><circle cx="166.4" cy="410.0" r="13.1" fill="rgb(254,222,118)" fill-opacity="0.75" stroke="rgb(192,158,55)" stroke-width="2.7"/><circle cx="142.4" cy="452.6" r="13.4" fill="rgb(254,222,118)" fill-opacity="0.75" stroke="rgb(192,158,55)" stroke-width="2.7"/><circle cx="179.6" cy="448.4" r="13.4" fill="rgb(254,222,118)" fill-opacity="0.75" stroke="rgb(192,158,55)" stroke-width="2.7"/><circle cx="338.3" cy="457.1" r="13.4" fill="rgb(254,222,118)" fill-opacity="0.75" stroke="rgb(192,158,55)" stroke-width="2.7"/><circle cx="374.5" cy="462.2" r="13.4" fill="rgb(254,222,118)" fill-opacity="0.75" stroke="rgb(192,158,55)" stroke-width="2.7"/><circle cx="244.9" cy="494.2" r="13.4" fill="rgb(254,222,118)" fill-opacity="0.75" stroke="rgb(192,158,55)" stroke-width="2.7"/><circle cx="274.3" cy="514.0" r="11.5" fill="rgb(254,222,118)" fill-opacity="0.75" stroke="rgb(192,158,55)" stroke-width="2.7"/><circle cx="306.3" cy="526.8" r="11.5" fill="rgb(254,222,118)" fill-opacity="0.75" stroke="rgb(192,158,55)" stroke-width="2.7"/><circle cx="308.9" cy="541.2" r="11.5" fill="rgb(254,222,118)" fill-opacity="0.75" stroke="rgb(192,158,55)" stroke-width="2.7"/><circle cx="359.1" cy="503.5" r="13.4" fill="rgb(254,222,118)" fill-opacity="0.75" stroke="rgb(192,158,55)" stroke-width="2.7"/><circle cx="422.2" cy="530.3" r="11.5" fill="rgb(254,222,118)" fill-opacity="0.75" stroke="rgb(192,158,55)" stroke-width="2.7"/><circle cx="281.7" cy="575.8" r="11.5" fill="rgb(254,222,118)" fill-opacity="0.75" stroke="rgb(192,158,55)" stroke-width="2.7"/><circle cx="394.3" cy="581.6" r="11.5" fill="rgb(254,222,118)" fill-opacity="0.75" stroke="rgb(192,158,55)" stroke-width="2.7"/><circle cx="489.7" cy="588.0" r="11.5" fill="rgb(254,222,118)" fill-opacity="0.75" stroke="rgb(192,158,55)" stroke-width="2.7"/><circle cx="306.0" cy="637.6" r="13.4" fill="rgb(254,222,118)" fill-opacity="0.75" stroke="rgb(192,158,55)" stroke-width="2.7"/><circle cx="366.5" cy="661.9" r="13.4" fill="rgb(254,222,118)" fill-opacity="0.75" stroke="rgb(192,158,55)" stroke-width="2.7"/><circle cx="514.7" cy="638.9" r="13.4" fill="rgb(254,222,118)" fill-opacity="0.75" stroke="rgb(192,158,55)" stroke-width="2.7"/><circle cx="450.7" cy="657.1" r="13.4" fill="rgb(254,222,118)" fill-opacity="0.75" stroke="rgb(192,158,55)" stroke-width="2.7"/><circle cx="461.9" cy="685.3" r="13.4" fill="rgb(254,222,118)" fill-opacity="0.75" stroke="rgb(192,158,55)" stroke-width="2.7"/><circle cx="489.1" cy="685.3" r="13.4" fill="rgb(254,222,118)" fill-opacity="0.75" stroke="rgb(192,158,55)" stroke-width="2.7"/><circle cx="466.3" cy="702.9" r="13.4" fill="rgb(254,222,118)" fill-opacity="0.75" stroke="rgb(192,158,55)" stroke-width="2.7"/><circle cx="489.7" cy="698.7" r="13.4" fill="rgb(254,222,118)" fill-opacity="0.75" stroke="rgb(192,158,55)" stroke-width="2.7"/><circle cx="441.1" cy="734.2" r="13.4" fill="rgb(254,222,118)" fill-opacity="0.75" stroke="rgb(192,158,55)" stroke-width="2.7"/><circle cx="336.1" cy="765.3" r="15.3" fill="rgb(254,222,118)" fill-opacity="0.75" stroke="rgb(192,158,55)" stroke-width="2.7"/><circle cx="401.7" cy="774.9" r="14.7" fill="rgb(254,222,118)" fill-opacity="0.75" stroke="rgb(192,158,55)" stroke-width="2.7"/><circle cx="417.1" cy="775.5" r="14.7" fill="rgb(254,222,118)" fill-opacity="0.75" stroke="rgb(192,158,55)" stroke-width="2.7"/><circle cx="633.3" cy="71.8" r="25.3" fill="rgb(254,222,118)" fill-opacity="0.75" stroke="rgb(192,158,55)" stroke-width="2.7"/><circle cx="844.3" cy="91.8" r="23.8" fill="rgb(254,222,118)" fill-opacity="0.75" stroke="rgb(192,158,55)" stroke-width="2.7"/><circle cx="785.1" cy="135.5" r="24.6" fill="rgb(254,222,118)" fill-opacity="0.75" stroke="rgb(192,158,55)" stroke-width="2.7"/><circle cx="835.0" cy="142.9" r="25.2" fill="rgb(254,222,118)" fill-opacity="0.75" stroke="rgb(192,158,55)" stroke-width="2.7"/><circle cx="907.1" cy="134.3" r="25.2" fill="rgb(254,222,118)" fill-opacity="0.75" stroke="rgb(192,158,55)" stroke-width="2.7"/><circle cx="813.5" cy="187.0" r="21.5" fill="rgb(253,150,60)" fill-opacity="0.75" stroke="rgb(200,110,10)" stroke-width="2.7"/><circle cx="949.3" cy="179.6" r="21.5" fill="rgb(254,222,118)" fill-opacity="0.75" stroke="rgb(192,158,55)" stroke-width="2.7"/><circle cx="986.9" cy="173.4" r="23.0" fill="rgb(254,222,118)" fill-opacity="0.75" stroke="rgb(192,158,55)" stroke-width="2.7"/><circle cx="1034.3" cy="196.5" r="21.8" fill="rgb(254,222,118)" fill-opacity="0.75" stroke="rgb(192,158,55)" stroke-width="2.7"/><circle cx="770.0" cy="215.6" r="18.7" fill="rgb(253,150,60)" fill-opacity="0.75" stroke="rgb(200,110,10)" stroke-width="2.7"/><circle cx="731.5" cy="218.7" r="18.7" fill="rgb(254,222,118)" fill-opacity="0.75" stroke="rgb(192,158,55)" stroke-width="2.7"/><circle cx="757.7" cy="244.9" r="18.7" fill="rgb(254,222,118)" fill-opacity="0.75" stroke="rgb(192,158,55)" stroke-width="2.7"/><circle cx="732.5" cy="256.3" r="16.6" fill="rgb(254,222,118)" fill-opacity="0.75" stroke="rgb(192,158,55)" stroke-width="2.7"/><circle cx="825.8" cy="253.2" r="19.0" fill="rgb(254,222,118)" fill-opacity="0.75" stroke="rgb(192,158,55)" stroke-width="2.7"/><circle cx="899.4" cy="245.8" r="18.7" fill="rgb(254,222,118)" fill-opacity="0.75" stroke="rgb(192,158,55)" stroke-width="2.7"/><circle cx="981.9" cy="260.9" r="17.2" fill="rgb(254,222,118)" fill-opacity="0.75" stroke="rgb(192,158,55)" stroke-width="2.7"/><circle cx="805.8" cy="290.5" r="16.6" fill="rgb(253,150,60)" fill-opacity="0.75" stroke="rgb(200,110,10)" stroke-width="2.7"/><circle cx="791.9" cy="278.1" r="16.6" fill="rgb(254,222,118)" fill-opacity="0.75" stroke="rgb(192,158,55)" stroke-width="2.7"/><circle cx="711.5" cy="304.9" r="17.2" fill="rgb(254,222,118)" fill-opacity="0.75" stroke="rgb(192,158,55)" stroke-width="2.7"/><circle cx="896.6" cy="301.9" r="17.2" fill="rgb(254,222,118)" fill-opacity="0.75" stroke="rgb(192,158,55)" stroke-width="2.7"/><circle cx="981.9" cy="312.0" r="15.0" fill="rgb(254,222,118)" fill-opacity="0.75" stroke="rgb(192,158,55)" stroke-width="2.7"/><circle cx="718.6" cy="336.4" r="15.6" fill="rgb(254,222,118)" fill-opacity="0.75" stroke="rgb(192,158,55)" stroke-width="2.7"/><circle cx="811.6" cy="328.6" r="15.0" fill="rgb(254,222,118)" fill-opacity="0.75" stroke="rgb(192,158,55)" stroke-width="2.7"/><circle cx="889.5" cy="329.0" r="15.0" fill="rgb(254,222,118)" fill-opacity="0.75" stroke="rgb(192,158,55)" stroke-width="2.7"/><circle cx="1028.1" cy="345.0" r="15.0" fill="rgb(254,222,118)" fill-opacity="0.75" stroke="rgb(192,158,55)" stroke-width="2.7"/><circle cx="949.0" cy="348.0" r="15.0" fill="rgb(254,222,118)" fill-opacity="0.75" stroke="rgb(192,158,55)" stroke-width="2.7"/><circle cx="941.0" cy="371.2" r="15.0" fill="rgb(254,222,118)" fill-opacity="0.75" stroke="rgb(192,158,55)" stroke-width="2.7"/><circle cx="707.2" cy="371.2" r="15.0" fill="rgb(254,222,118)" fill-opacity="0.75" stroke="rgb(192,158,55)" stroke-width="2.7"/><circle cx="912.6" cy="385.0" r="13.5" fill="rgb(254,222,118)" fill-opacity="0.75" stroke="rgb(192,158,55)" stroke-width="2.7"/><circle cx="1026.6" cy="392.0" r="13.5" fill="rgb(254,222,118)" fill-opacity="0.75" stroke="rgb(192,158,55)" stroke-width="2.7"/><circle cx="647.7" cy="397.0" r="13.5" fill="rgb(254,222,118)" fill-opacity="0.75" stroke="rgb(192,158,55)" stroke-width="2.7"/><circle cx="832.5" cy="415.0" r="13.7" fill="rgb(254,222,118)" fill-opacity="0.75" stroke="rgb(192,158,55)" stroke-width="2.7"/><circle cx="952.5" cy="422.2" r="13.7" fill="rgb(254,222,118)" fill-opacity="0.75" stroke="rgb(192,158,55)" stroke-width="2.7"/><circle cx="1022.3" cy="417.0" r="13.7" fill="rgb(254,222,118)" fill-opacity="0.75" stroke="rgb(192,158,55)" stroke-width="2.7"/><circle cx="755.4" cy="526.8" r="11.5" fill="rgb(254,222,118)" fill-opacity="0.75" stroke="rgb(192,158,55)" stroke-width="2.7"/><circle cx="534.8" cy="610.4" r="11.5" fill="rgb(254,222,118)" fill-opacity="0.75" stroke="rgb(192,158,55)" stroke-width="2.7"/><circle cx="895.2" cy="717.9" r="13.7" fill="rgb(254,222,118)" fill-opacity="0.75" stroke="rgb(192,158,55)" stroke-width="2.7"/><circle cx="1053.4" cy="589.8" r="11.5" fill="rgb(254,222,118)" fill-opacity="0.75" stroke="rgb(192,158,55)" stroke-width="2.7"/><circle cx="1250.8" cy="174.3" r="23.3" fill="rgb(254,222,118)" fill-opacity="0.75" stroke="rgb(192,158,55)" stroke-width="2.7"/><circle cx="1365.4" cy="257.2" r="17.8" fill="rgb(254,222,118)" fill-opacity="0.75" stroke="rgb(192,158,55)" stroke-width="2.7"/><circle cx="1233.9" cy="285.8" r="17.8" fill="rgb(254,222,118)" fill-opacity="0.75" stroke="rgb(192,158,55)" stroke-width="2.7"/><circle cx="1099.9" cy="307.4" r="15.6" fill="rgb(254,222,118)" fill-opacity="0.75" stroke="rgb(192,158,55)" stroke-width="2.7"/><circle cx="1504.0" cy="247.0" r="19.6" fill="rgb(254,222,118)" fill-opacity="0.75" stroke="rgb(192,158,55)" stroke-width="2.7"/><circle cx="1457.1" cy="268.0" r="17.8" fill="rgb(254,222,118)" fill-opacity="0.75" stroke="rgb(192,158,55)" stroke-width="2.7"/><circle cx="1451.3" cy="288.9" r="17.8" fill="rgb(254,222,118)" fill-opacity="0.75" stroke="rgb(192,158,55)" stroke-width="2.7"/><circle cx="1360.1" cy="310.1" r="15.6" fill="rgb(254,222,118)" fill-opacity="0.75" stroke="rgb(192,158,55)" stroke-width="2.7"/><circle cx="1401.7" cy="313.5" r="15.6" fill="rgb(200,10,35)" fill-opacity="0.75" stroke="rgb(150,0,15)" stroke-width="2.7"/><circle cx="1460.2" cy="332.6" r="15.6" fill="rgb(200,10,35)" fill-opacity="0.75" stroke="rgb(150,0,15)" stroke-width="2.7"/><circle cx="1530.8" cy="345.6" r="15.6" fill="rgb(254,222,118)" fill-opacity="0.75" stroke="rgb(192,158,55)" stroke-width="2.7"/><circle cx="1347.2" cy="344.3" r="15.6" fill="rgb(254,222,118)" fill-opacity="0.75" stroke="rgb(192,158,55)" stroke-width="2.7"/><circle cx="1393.1" cy="344.9" r="15.6" fill="rgb(245,65,40)" fill-opacity="0.75" stroke="rgb(205,0,0)" stroke-width="2.7"/><circle cx="1331.5" cy="381.9" r="13.5" fill="rgb(253,150,60)" fill-opacity="0.75" stroke="rgb(200,110,10)" stroke-width="2.7"/><circle cx="1409.4" cy="379.4" r="13.5" fill="rgb(125,0,35)" fill-opacity="0.75" stroke="rgb(80,0,10)" stroke-width="2.7"/><circle cx="1170.1" cy="390.0" r="13.5" fill="rgb(254,222,118)" fill-opacity="0.75" stroke="rgb(192,158,55)" stroke-width="2.7"/><circle cx="1253.9" cy="389.0" r="13.5" fill="rgb(254,222,118)" fill-opacity="0.75" stroke="rgb(192,158,55)" stroke-width="2.7"/><circle cx="1166.0" cy="415.4" r="13.4" fill="rgb(254,222,118)" fill-opacity="0.75" stroke="rgb(192,158,55)" stroke-width="2.7"/><circle cx="1163.4" cy="451.0" r="13.4" fill="rgb(254,222,118)" fill-opacity="0.75" stroke="rgb(192,158,55)" stroke-width="2.7"/><circle cx="1192.6" cy="488.7" r="13.4" fill="rgb(254,222,118)" fill-opacity="0.75" stroke="rgb(192,158,55)" stroke-width="2.7"/><circle cx="1225.2" cy="425.4" r="13.4" fill="rgb(254,222,118)" fill-opacity="0.75" stroke="rgb(192,158,55)" stroke-width="2.7"/><circle cx="1252.4" cy="422.2" r="13.4" fill="rgb(254,222,118)" fill-opacity="0.75" stroke="rgb(192,158,55)" stroke-width="2.7"/><circle cx="1224.2" cy="445.8" r="13.4" fill="rgb(254,222,118)" fill-opacity="0.75" stroke="rgb(192,158,55)" stroke-width="2.7"/><circle cx="1335.6" cy="419.6" r="13.4" fill="rgb(254,222,118)" fill-opacity="0.75" stroke="rgb(192,158,55)" stroke-width="2.7"/><circle cx="1344.6" cy="442.6" r="13.4" fill="rgb(254,222,118)" fill-opacity="0.75" stroke="rgb(192,158,55)" stroke-width="2.7"/><circle cx="1393.2" cy="422.8" r="13.4" fill="rgb(200,10,35)" fill-opacity="0.75" stroke="rgb(150,0,15)" stroke-width="2.7"/><circle cx="1385.2" cy="434.0" r="13.4" fill="rgb(254,222,118)" fill-opacity="0.75" stroke="rgb(192,158,55)" stroke-width="2.7"/><circle cx="1298.8" cy="454.8" r="13.4" fill="rgb(254,222,118)" fill-opacity="0.75" stroke="rgb(192,158,55)" stroke-width="2.7"/><circle cx="1305.8" cy="481.0" r="13.4" fill="rgb(254,222,118)" fill-opacity="0.75" stroke="rgb(192,158,55)" stroke-width="2.7"/><circle cx="1345.5" cy="481.4" r="13.4" fill="rgb(254,222,118)" fill-opacity="0.75" stroke="rgb(192,158,55)" stroke-width="2.7"/><circle cx="1342.6" cy="502.2" r="13.4" fill="rgb(254,222,118)" fill-opacity="0.75" stroke="rgb(192,158,55)" stroke-width="2.7"/><circle cx="1424.6" cy="480.4" r="13.4" fill="rgb(254,222,118)" fill-opacity="0.75" stroke="rgb(192,158,55)" stroke-width="2.7"/><circle cx="1386.8" cy="538.0" r="11.5" fill="rgb(254,222,118)" fill-opacity="0.75" stroke="rgb(192,158,55)" stroke-width="2.7"/><circle cx="1323.4" cy="551.4" r="11.5" fill="rgb(254,222,118)" fill-opacity="0.75" stroke="rgb(192,158,55)" stroke-width="2.7"/><circle cx="1346.8" cy="600.4" r="11.5" fill="rgb(254,222,118)" fill-opacity="0.75" stroke="rgb(192,158,55)" stroke-width="2.7"/><circle cx="1378.8" cy="606.8" r="11.5" fill="rgb(254,222,118)" fill-opacity="0.75" stroke="rgb(192,158,55)" stroke-width="2.7"/><circle cx="1567.6" cy="597.2" r="11.5" fill="rgb(254,222,118)" fill-opacity="0.75" stroke="rgb(192,158,55)" stroke-width="2.7"/><circle cx="1395.8" cy="755.6" r="15.3" fill="rgb(254,222,118)" fill-opacity="0.75" stroke="rgb(192,158,55)" stroke-width="2.7"/><circle cx="1550.0" cy="765.8" r="15.3" fill="rgb(254,222,118)" fill-opacity="0.75" stroke="rgb(192,158,55)" stroke-width="2.7"/><rect x="1354.6999999999998" y="534.1" width="192.7" height="234.5" rx="5" fill="rgb(60,60,60)" fill-opacity="0.3"/><text x="1370.0" y="573.2" font-size="19.5" fill="#9c9c9c" font-weight="bold" text-anchor="start" textLength="64" lengthAdjust="spacingAndGlyphs">Count</text><circle cx="1379.9" cy="597.3" r="8.6" fill="rgb(253,220,115)" stroke="rgb(200,160,50)" stroke-width="2"/><text x="1398.0" y="607.9" font-size="21.5" fill="#9a9a9a" font-weight="bold" text-anchor="start" textLength="89.7" lengthAdjust="spacingAndGlyphs">1 &#8211; 159.6</text><circle cx="1379.9" cy="631.4" r="8.6" fill="rgb(253,155,65)" stroke="rgb(195,105,0)" stroke-width="2"/><text x="1398.0" y="642.0" font-size="21.5" fill="#9a9a9a" font-weight="bold" text-anchor="start" textLength="133.7" lengthAdjust="spacingAndGlyphs">159.6 &#8211; 318.2</text><circle cx="1379.9" cy="665.5" r="8.6" fill="rgb(250,80,50)" stroke="rgb(200,0,0)" stroke-width="2"/><text x="1398.0" y="676.1" font-size="21.5" fill="#9a9a9a" font-weight="bold" text-anchor="start" textLength="133.7" lengthAdjust="spacingAndGlyphs">318.2 &#8211; 476.8</text><circle cx="1379.9" cy="699.6" r="8.6" fill="rgb(215,20,40)" stroke="rgb(150,0,10)" stroke-width="2"/><text x="1398.0" y="710.2" font-size="21.5" fill="#9a9a9a" font-weight="bold" text-anchor="start" textLength="133.7" lengthAdjust="spacingAndGlyphs">476.8 &#8211; 635.4</text><circle cx="1379.9" cy="733.7" r="8.6" fill="rgb(125,0,35)" stroke="rgb(60,0,0)" stroke-width="2"/><text x="1398.0" y="744.3" font-size="21.5" fill="#9a9a9a" font-weight="bold" text-anchor="start" textLength="114" lengthAdjust="spacingAndGlyphs">635.4 &#8211; 794</text><rect x="1026.1" y="788" width="541.9000000000001" height="32" fill="#454545" fill-opacity="0.85"/><rect x="1060" y="792.2" width="155.7" height="23.4" fill="#333"/><rect x="1352.1" y="792.2" width="205.5" height="23.4" fill="#333"/><text x="1035.9" y="811.7" font-size="21" fill="#999" font-weight="normal" text-anchor="start" >&#169;</text><text x="1060.5" y="811.7" font-size="20.3" fill="#ececec" font-weight="normal" text-anchor="start" textLength="154.5" lengthAdjust="spacingAndGlyphs">OpenStreetMap</text><text x="1221.7" y="811.7" font-size="20.3" fill="#9a9a9a" font-weight="normal" text-anchor="start" textLength="123.5" lengthAdjust="spacingAndGlyphs">contributors,</text><text x="1353.5" y="811.7" font-size="20.3" fill="#ececec" font-weight="normal" text-anchor="start" textLength="203.5" lengthAdjust="spacingAndGlyphs">Elastic Maps Service</text><g style="filter:drop-shadow(0 1px 2px rgba(0,0,0,0.5))"><rect x="20.200000000000045" y="20.19999999999999" width="51.299999999999955" height="103.40000000000003" rx="5" fill="#323232"/><rect x="20.200000000000045" y="143.7" width="51.299999999999955" height="51.599999999999966" rx="5" fill="#323232"/><rect x="20.200000000000045" y="216.20000000000005" width="51.299999999999955" height="103.09999999999991" rx="5" fill="#323232"/></g><rect x="20.200000000000045" y="70" width="51.3" height="1.5" fill="#474747"/><rect x="20.200000000000045" y="265.79999999999995" width="51.3" height="1.5" fill="#474747"/><rect x="36.0" y="46.39999999999998" width="21" height="4" fill="#e2e2e2"/><rect x="44.5" y="37.89999999999998" width="4" height="21" fill="#e2e2e2"/><rect x="37.7" y="97.5" width="17.6" height="4" fill="#e2e2e2"/><path d="M40.0,158.29999999999995 V175.79999999999995 H57.5 M35.5,162.79999999999995 H53.0 V180.29999999999995" fill="none" stroke="#e2e2e2" stroke-width="2.8"/><line x1="40.0" y1="175.79999999999995" x2="57.0" y2="158.79999999999995" stroke="#e2e2e2" stroke-width="1.2"/><polygon points="48.4,229.6 57.6,239.8 50.8,251.7 37.3,248.8 35.9,235.2" fill="#e2e2e2"/><rect x="36.299999999999955" y="283.6" width="19.9" height="19.9" fill="#e2e2e2"/></svg>
<svg style="position:absolute;left:0;top:0" width="3360" height="1736" viewBox="0 0 3360 1736" font-family='"Liberation Sans", sans-serif'><text x="140.6" y="289.6" font-size="28.8" fill="#939393" font-weight="normal" text-anchor="start" >Dionaea Attacks Bar</text><text x="1084.6" y="289.6" font-size="28.8" fill="#939393" font-weight="normal" text-anchor="start" >Dionaea Attacks</text><text x="1760.6" y="289.6" font-size="28.8" fill="#939393" font-weight="normal" text-anchor="start" >Dionaea Attack Map</text><text x="140.6" y="626.3" font-size="28.8" fill="#939393" font-weight="normal" text-anchor="start" >Dionaea Attacks Histogram</text><text x="140.6" y="1242.3" font-size="28.8" fill="#939393" font-weight="normal" text-anchor="start" >Dionaea - Attacker Src IP Reputation</text><text x="883.1" y="1242.3" font-size="28.8" fill="#939393" font-weight="normal" text-anchor="start" >Dionaea Protocol</text><text x="1625.1" y="1242.3" font-size="28.8" fill="#939393" font-weight="normal" text-anchor="start" >Dionaea - Attacks by Country</text><text x="2366.6" y="1242.3" font-size="28.8" fill="#939393" font-weight="normal" text-anchor="start" >Dionaea - Attacks by Country Histogram</text><rect x="142" y="366" width="528" height="56.6" fill="#5aa33c"/><rect x="142" y="422.6" width="298" height="55.4" fill="#843ca0"/><path d="M142,491 V479.3 H686 V491" fill="none" stroke="#e0e0e0" stroke-width="2"/><line x1="432.7" y1="479.3" x2="432.7" y2="491" stroke="#e0e0e0" stroke-width="2"/><line x1="552.6" y1="479.3" x2="552.6" y2="491" stroke="#e0e0e0" stroke-width="2"/><line x1="645.8" y1="479.3" x2="645.8" y2="491" stroke="#e0e0e0" stroke-width="2"/><text x="432.7" y="513" font-size="21.5" fill="#c4c4c4" font-weight="normal" text-anchor="middle" >2,000</text><text x="552.6" y="513" font-size="21.5" fill="#c4c4c4" font-weight="normal" text-anchor="middle" >4,000</text><text x="645.8" y="513" font-size="21.5" fill="#c4c4c4" font-weight="normal" text-anchor="middle" >6,000</text><circle cx="710" cy="380" r="13.5" fill="#5a5a5a"/><polyline points="707,374 713.5,380 707,386" fill="none" stroke="#262626" stroke-width="4.2" stroke-linejoin="miter"/><circle cx="748" cy="375.5" r="10.5" fill="#63be3f"/><text x="765" y="383.9" font-size="24.6" fill="#cfcfcf" font-weight="normal" text-anchor="start" >Attacks</text><circle cx="748" cy="413.3" r="10.5" fill="#9d3fc3"/><text x="765" y="421.7" font-size="24.6" fill="#cfcfcf" font-weight="normal" text-anchor="start" >Unique Src IPs</text><text x="1260" y="464" font-size="81" fill="#dddddd" font-weight="bold" text-anchor="middle" >6,596</text><text x="1259.5" y="498.3" font-size="28" fill="#dddddd" font-weight="normal" text-anchor="middle" >Attacks</text><text x="1529.8" y="464" font-size="81" fill="#dddddd" font-weight="bold" text-anchor="middle" >2,099</text><text x="1529.9" y="498.3" font-size="28" fill="#dddddd" font-weight="normal" text-anchor="middle" >Unique Src IPs</text><path d="M195.5,701.9 H208 V1061.6 H195.5" fill="none" stroke="#e0e0e0" stroke-width="2"/><line x1="195.5" y1="733" x2="208" y2="733" stroke="#e0e0e0" stroke-width="2"/><line x1="195.5" y1="793.7" x2="208" y2="793.7" stroke="#e0e0e0" stroke-width="2"/><line x1="195.5" y1="872" x2="208" y2="872" stroke="#e0e0e0" stroke-width="2"/><text x="189" y="741" font-size="21.6" fill="#c4c4c4" font-weight="normal" text-anchor="end" >150</text><text x="189" y="801.7" font-size="21.6" fill="#c4c4c4" font-weight="normal" text-anchor="end" >100</text><text x="189" y="880" font-size="21.6" fill="#c4c4c4" font-weight="normal" text-anchor="end" >50</text><text x="189" y="1069.6" font-size="21.6" fill="#c4c4c4" font-weight="normal" text-anchor="end" >0</text><path d="M208,1074 V1061.6 H1361 V1074" fill="none" stroke="#e0e0e0" stroke-width="2"/><line x1="326" y1="1061.6" x2="326" y2="1074" stroke="#e0e0e0" stroke-width="2"/><line x1="594.9" y1="1061.6" x2="594.9" y2="1074" stroke="#e0e0e0" stroke-width="2"/><line x1="863.3" y1="1061.6" x2="863.3" y2="1074" stroke="#e0e0e0" stroke-width="2"/><line x1="1133" y1="1061.6" x2="1133" y2="1074" stroke="#e0e0e0" stroke-width="2"/><text x="326" y="1095.5" font-size="21.6" fill="#c4c4c4" font-weight="normal" text-anchor="middle" >2018-10-28 02:00</text><text x="594.9" y="1095.5" font-size="21.6" fill="#c4c4c4" font-weight="normal" text-anchor="middle" >2018-11-04 01:00</text><text x="863.3" y="1095.5" font-size="21.6" fill="#c4c4c4" font-weight="normal" text-anchor="middle" >2018-11-11 01:00</text><text x="1133" y="1095.5" font-size="21.6" fill="#c4c4c4" font-weight="normal" text-anchor="middle" >2018-11-18 01:00</text><text x="785" y="1133" font-size="25.2" fill="#c8c8c8" font-weight="bold" text-anchor="middle" >Timestamp</text><polyline points="208.0,762.0 227.2,781.9 246.4,760.6 265.7,786.0 284.9,772.9 304.1,817.4 323.3,796.3 342.6,760.6 361.8,766.6 381.0,765.3 400.2,735.5 419.4,773.8 438.7,773.8 457.9,784.2 477.1,805.9 496.3,807.1 515.6,782.8 534.8,798.1 554.0,705.2 573.2,782.8 592.4,770.5 611.7,781.9 630.9,788.2 650.1,772.9 669.3,801.7 688.6,784.2 707.8,771.6 727.0,754.5 746.2,742.8 765.4,760.3 784.7,766.9 803.9,778.8 823.1,786.9 842.3,789.1 861.5,818.9 880.8,782.8 900.0,785.5 919.2,782.8 938.4,771.6 957.7,755.2 976.9,767.9 996.1,780.6 1015.3,799.0 1034.5,817.4 1053.8,834.2 1073.0,734.1 1092.2,770.6 1111.4,744.9 1130.7,823.3 1149.9,817.9 1169.1,767.9 1188.3,831.5 1207.5,786.8 1226.8,813.1 1246.0,1023.5 1265.2,779.3 1284.4,780.6 1303.7,731.4 1322.9,749.0 1342.1,780.6" fill="none" stroke="#63be3f" stroke-width="3.3" stroke-linejoin="round"/><circle cx="208.0" cy="762.0" r="4.6" fill="#63be3f"/><circle cx="227.2" cy="781.9" r="4.6" fill="#63be3f"/><circle cx="246.4" cy="760.6" r="4.6" fill="#63be3f"/><circle cx="265.7" cy="786.0" r="4.6" fill="#63be3f"/><circle cx="284.9" cy="772.9" r="4.6" fill="#63be3f"/><circle cx="304.1" cy="817.4" r="4.6" fill="#63be3f"/><circle cx="323.3" cy="796.3" r="4.6" fill="#63be3f"/><circle cx="342.6" cy="760.6" r="4.6" fill="#63be3f"/><circle cx="361.8" cy="766.6" r="4.6" fill="#63be3f"/><circle cx="381.0" cy="765.3" r="4.6" fill="#63be3f"/><circle cx="400.2" cy="735.5" r="4.6" fill="#63be3f"/><circle cx="419.4" cy="773.8" r="4.6" fill="#63be3f"/><circle cx="438.7" cy="773.8" r="4.6" fill="#63be3f"/><circle cx="457.9" cy="784.2" r="4.6" fill="#63be3f"/><circle cx="477.1" cy="805.9" r="4.6" fill="#63be3f"/><circle cx="496.3" cy="807.1" r="4.6" fill="#63be3f"/><circle cx="515.6" cy="782.8" r="4.6" fill="#63be3f"/><circle cx="534.8" cy="798.1" r="4.6" fill="#63be3f"/><circle cx="554.0" cy="705.2" r="4.6" fill="#63be3f"/><circle cx="573.2" cy="782.8" r="4.6" fill="#63be3f"/><circle cx="592.4" cy="770.5" r="4.6" fill="#63be3f"/><circle cx="611.7" cy="781.9" r="4.6" fill="#63be3f"/><circle cx="630.9" cy="788.2" r="4.6" fill="#63be3f"/><circle cx="650.1" cy="772.9" r="4.6" fill="#63be3f"/><circle cx="669.3" cy="801.7" r="4.6" fill="#63be3f"/><circle cx="688.6" cy="784.2" r="4.6" fill="#63be3f"/><circle cx="707.8" cy="771.6" r="4.6" fill="#63be3f"/><circle cx="727.0" cy="754.5" r="4.6" fill="#63be3f"/><circle cx="746.2" cy="742.8" r="4.6" fill="#63be3f"/><circle cx="765.4" cy="760.3" r="4.6" fill="#63be3f"/><circle cx="784.7" cy="766.9" r="4.6" fill="#63be3f"/><circle cx="803.9" cy="778.8" r="4.6" fill="#63be3f"/><circle cx="823.1" cy="786.9" r="4.6" fill="#63be3f"/><circle cx="842.3" cy="789.1" r="4.6" fill="#63be3f"/><circle cx="861.5" cy="818.9" r="4.6" fill="#63be3f"/><circle cx="880.8" cy="782.8" r="4.6" fill="#63be3f"/><circle cx="900.0" cy="785.5" r="4.6" fill="#63be3f"/><circle cx="919.2" cy="782.8" r="4.6" fill="#63be3f"/><circle cx="938.4" cy="771.6" r="4.6" fill="#63be3f"/><circle cx="957.7" cy="755.2" r="4.6" fill="#63be3f"/><circle cx="976.9" cy="767.9" r="4.6" fill="#63be3f"/><circle cx="996.1" cy="780.6" r="4.6" fill="#63be3f"/><circle cx="1015.3" cy="799.0" r="4.6" fill="#63be3f"/><circle cx="1034.5" cy="817.4" r="4.6" fill="#63be3f"/><circle cx="1053.8" cy="834.2" r="4.6" fill="#63be3f"/><circle cx="1073.0" cy="734.1" r="4.6" fill="#63be3f"/><circle cx="1092.2" cy="770.6" r="4.6" fill="#63be3f"/><circle cx="1111.4" cy="744.9" r="4.6" fill="#63be3f"/><circle cx="1130.7" cy="823.3" r="4.6" fill="#63be3f"/><circle cx="1149.9" cy="817.9" r="4.6" fill="#63be3f"/><circle cx="1169.1" cy="767.9" r="4.6" fill="#63be3f"/><circle cx="1188.3" cy="831.5" r="4.6" fill="#63be3f"/><circle cx="1207.5" cy="786.8" r="4.6" fill="#63be3f"/><circle cx="1226.8" cy="813.1" r="4.6" fill="#63be3f"/><circle cx="1246.0" cy="1023.5" r="4.6" fill="#63be3f"/><circle cx="1265.2" cy="779.3" r="4.6" fill="#63be3f"/><circle cx="1284.4" cy="780.6" r="4.6" fill="#63be3f"/><circle cx="1303.7" cy="731.4" r="4.6" fill="#63be3f"/><circle cx="1322.9" cy="749.0" r="4.6" fill="#63be3f"/><circle cx="1342.1" cy="780.6" r="4.6" fill="#63be3f"/><polyline points="208.0,871.7 227.2,854.0 246.4,843.6 265.7,850.4 284.9,841.8 304.1,866.3 323.3,864.5 342.6,860.9 361.8,845.0 381.0,846.8 400.2,854.0 419.4,841.8 438.7,841.8 457.9,859.1 477.1,889.7 496.3,868.1 515.6,853.7 534.8,879.3 554.0,843.6 573.2,854.0 592.4,842.0 611.7,847.2 630.9,879.8 650.1,862.7 669.3,857.3 688.6,859.1 707.8,864.8 727.0,848.6 746.2,841.8 765.4,833.8 784.7,845.6 803.9,859.1 823.1,850.4 842.3,879.3 861.5,874.2 880.8,853.7 900.0,866.3 919.2,857.6 938.4,855.8 957.7,849.0 976.9,859.3 996.1,860.7 1015.3,853.6 1034.5,872.0 1053.8,872.0 1073.0,836.9 1092.2,845.0 1111.4,851.7 1130.7,872.0 1149.9,886.1 1169.1,859.3 1188.3,889.6 1207.5,859.3 1226.8,880.1 1246.0,1024.0 1265.2,864.7 1284.4,874.2 1303.7,838.8 1322.9,847.1 1342.1,849.0" fill="none" stroke="#9d3fc3" stroke-width="3.3" stroke-linejoin="round"/><circle cx="208.0" cy="871.7" r="4.6" fill="#9d3fc3"/><circle cx="227.2" cy="854.0" r="4.6" fill="#9d3fc3"/><circle cx="246.4" cy="843.6" r="4.6" fill="#9d3fc3"/><circle cx="265.7" cy="850.4" r="4.6" fill="#9d3fc3"/><circle cx="284.9" cy="841.8" r="4.6" fill="#9d3fc3"/><circle cx="304.1" cy="866.3" r="4.6" fill="#9d3fc3"/><circle cx="323.3" cy="864.5" r="4.6" fill="#9d3fc3"/><circle cx="342.6" cy="860.9" r="4.6" fill="#9d3fc3"/><circle cx="361.8" cy="845.0" r="4.6" fill="#9d3fc3"/><circle cx="381.0" cy="846.8" r="4.6" fill="#9d3fc3"/><circle cx="400.2" cy="854.0" r="4.6" fill="#9d3fc3"/><circle cx="419.4" cy="841.8" r="4.6" fill="#9d3fc3"/><circle cx="438.7" cy="841.8" r="4.6" fill="#9d3fc3"/><circle cx="457.9" cy="859.1" r="4.6" fill="#9d3fc3"/><circle cx="477.1" cy="889.7" r="4.6" fill="#9d3fc3"/><circle cx="496.3" cy="868.1" r="4.6" fill="#9d3fc3"/><circle cx="515.6" cy="853.7" r="4.6" fill="#9d3fc3"/><circle cx="534.8" cy="879.3" r="4.6" fill="#9d3fc3"/><circle cx="554.0" cy="843.6" r="4.6" fill="#9d3fc3"/><circle cx="573.2" cy="854.0" r="4.6" fill="#9d3fc3"/><circle cx="592.4" cy="842.0" r="4.6" fill="#9d3fc3"/><circle cx="611.7" cy="847.2" r="4.6" fill="#9d3fc3"/><circle cx="630.9" cy="879.8" r="4.6" fill="#9d3fc3"/><circle cx="650.1" cy="862.7" r="4.6" fill="#9d3fc3"/><circle cx="669.3" cy="857.3" r="4.6" fill="#9d3fc3"/><circle cx="688.6" cy="859.1" r="4.6" fill="#9d3fc3"/><circle cx="707.8" cy="864.8" r="4.6" fill="#9d3fc3"/><circle cx="727.0" cy="848.6" r="4.6" fill="#9d3fc3"/><circle cx="746.2" cy="841.8" r="4.6" fill="#9d3fc3"/><circle cx="765.4" cy="833.8" r="4.6" fill="#9d3fc3"/><circle cx="784.7" cy="845.6" r="4.6" fill="#9d3fc3"/><circle cx="803.9" cy="859.1" r="4.6" fill="#9d3fc3"/><circle cx="823.1" cy="850.4" r="4.6" fill="#9d3fc3"/><circle cx="842.3" cy="879.3" r="4.6" fill="#9d3fc3"/><circle cx="861.5" cy="874.2" r="4.6" fill="#9d3fc3"/><circle cx="880.8" cy="853.7" r="4.6" fill="#9d3fc3"/><circle cx="900.0" cy="866.3" r="4.6" fill="#9d3fc3"/><circle cx="919.2" cy="857.6" r="4.6" fill="#9d3fc3"/><circle cx="938.4" cy="855.8" r="4.6" fill="#9d3fc3"/><circle cx="957.7" cy="849.0" r="4.6" fill="#9d3fc3"/><circle cx="976.9" cy="859.3" r="4.6" fill="#9d3fc3"/><circle cx="996.1" cy="860.7" r="4.6" fill="#9d3fc3"/><circle cx="1015.3" cy="853.6" r="4.6" fill="#9d3fc3"/><circle cx="1034.5" cy="872.0" r="4.6" fill="#9d3fc3"/><circle cx="1053.8" cy="872.0" r="4.6" fill="#9d3fc3"/><circle cx="1073.0" cy="836.9" r="4.6" fill="#9d3fc3"/><circle cx="1092.2" cy="845.0" r="4.6" fill="#9d3fc3"/><circle cx="1111.4" cy="851.7" r="4.6" fill="#9d3fc3"/><circle cx="1130.7" cy="872.0" r="4.6" fill="#9d3fc3"/><circle cx="1149.9" cy="886.1" r="4.6" fill="#9d3fc3"/><circle cx="1169.1" cy="859.3" r="4.6" fill="#9d3fc3"/><circle cx="1188.3" cy="889.6" r="4.6" fill="#9d3fc3"/><circle cx="1207.5" cy="859.3" r="4.6" fill="#9d3fc3"/><circle cx="1226.8" cy="880.1" r="4.6" fill="#9d3fc3"/><circle cx="1246.0" cy="1024.0" r="4.6" fill="#9d3fc3"/><circle cx="1265.2" cy="864.7" r="4.6" fill="#9d3fc3"/><circle cx="1284.4" cy="874.2" r="4.6" fill="#9d3fc3"/><circle cx="1303.7" cy="838.8" r="4.6" fill="#9d3fc3"/><circle cx="1322.9" cy="847.1" r="4.6" fill="#9d3fc3"/><circle cx="1342.1" cy="849.0" r="4.6" fill="#9d3fc3"/><circle cx="1386" cy="716" r="13.5" fill="#5a5a5a"/><polyline points="1383,710 1389.5,716 1383,722" fill="none" stroke="#262626" stroke-width="4.2" stroke-linejoin="miter"/><circle cx="1424" cy="711.0" r="10.5" fill="#63be3f"/><text x="1441" y="719.4" font-size="24.6" fill="#cfcfcf" font-weight="normal" text-anchor="start" >Attacks</text><circle cx="1424" cy="749.3" r="10.5" fill="#9d3fc3"/><text x="1441" y="757.6999999999999" font-size="24.6" fill="#cfcfcf" font-weight="normal" text-anchor="start" >Unique Src IPs</text><path d="M312.70,1386.50 A153.5,153.5 0 1 1 175.69,1470.79 L213.62,1489.95 A111,111 0 1 0 312.70,1429.00 Z" fill="#dba15f" stroke="#1c1c1c" stroke-width="2.2"/><path d="M175.69,1470.79 A153.5,153.5 0 0 1 258.94,1396.22 L273.83,1436.03 A111,111 0 0 0 213.62,1489.95 Z" fill="#c3b244" stroke="#1c1c1c" stroke-width="2.2"/><path d="M258.94,1396.22 A153.5,153.5 0 0 1 295.86,1387.43 L300.52,1429.67 A111,111 0 0 0 273.83,1436.03 Z" fill="#4354cb" stroke="#1c1c1c" stroke-width="2.2"/><path d="M295.86,1387.43 A153.5,153.5 0 0 1 311.09,1386.51 L311.54,1429.01 A111,111 0 0 0 300.52,1429.67 Z" fill="#c9503f" stroke="#1c1c1c" stroke-width="2.2"/><path d="M311.09,1386.51 A153.5,153.5 0 0 1 312.16,1386.50 L312.31,1429.00 A111,111 0 0 0 311.54,1429.01 Z" fill="#3fb5c3" stroke="#1c1c1c" stroke-width="2.2"/><circle cx="312.7" cy="1540" r="154.5" fill="none" stroke="#1a1a1a" stroke-width="2"/><circle cx="312.7" cy="1540" r="110" fill="none" stroke="#1e1e1e" stroke-width="2"/><circle cx="508.3" cy="1332.5" r="13.5" fill="#5a5a5a"/><polyline points="505.3,1326.5 511.8,1332.5 505.3,1338.5" fill="none" stroke="#262626" stroke-width="4.2" stroke-linejoin="miter"/><circle cx="546.2" cy="1327.4" r="10.5" fill="#dba15f"/><text x="563.6" y="1335.8000000000002" font-size="24.6" fill="#cfcfcf" font-weight="normal" text-anchor="start" >known attacker</text><circle cx="546.2" cy="1365.5" r="10.5" fill="#c3b244"/><text x="563.6" y="1373.9" font-size="24.6" fill="#cfcfcf" font-weight="normal" text-anchor="start" >bad reputation</text><circle cx="546.2" cy="1403.6000000000001" r="10.5" fill="#4354cb"/><text x="563.6" y="1412.0000000000002" font-size="24.6" fill="#cfcfcf" font-weight="normal" text-anchor="start" >mass scanner</text><circle cx="546.2" cy="1441.7" r="10.5" fill="#c9503f"/><text x="563.6" y="1450.1000000000001" font-size="24.6" fill="#cfcfcf" font-weight="normal" text-anchor="start" >malware</text><circle cx="546.2" cy="1479.8000000000002" r="10.5" fill="#3fb5c3"/><text x="563.6" y="1488.2000000000003" font-size="24.6" fill="#cfcfcf" font-weight="normal" text-anchor="start" >bot, crawler</text><circle cx="546.2" cy="1517.9" r="10.5" fill="#6ac23f"/><text x="563.6" y="1526.3000000000002" font-size="24.6" fill="#cfcfcf" font-weight="normal" text-anchor="start" >mining node</text><path d="M1054.80,1386.50 A153.5,153.5 0 0 1 1088.02,1689.86 L1078.82,1648.37 A111,111 0 0 0 1054.80,1429.00 Z" fill="#8e43c2" stroke="#1c1c1c" stroke-width="2.2"/><path d="M1088.02,1689.86 A153.5,153.5 0 0 1 904.65,1508.09 L946.23,1516.92 A111,111 0 0 0 1078.82,1648.37 Z" fill="#c242a6" stroke="#1c1c1c" stroke-width="2.2"/><path d="M904.65,1508.09 A153.5,153.5 0 0 1 981.79,1404.97 L1002.01,1442.36 A111,111 0 0 0 946.23,1516.92 Z" fill="#43be58" stroke="#1c1c1c" stroke-width="2.2"/><path d="M981.79,1404.97 A153.5,153.5 0 0 1 1011.97,1392.59 L1023.83,1433.41 A111,111 0 0 0 1002.01,1442.36 Z" fill="#cca048" stroke="#1c1c1c" stroke-width="2.2"/><path d="M1011.97,1392.59 A153.5,153.5 0 0 1 1027.62,1388.93 L1035.14,1430.75 A111,111 0 0 0 1023.83,1433.41 Z" fill="#4169cc" stroke="#1c1c1c" stroke-width="2.2"/><path d="M1027.62,1388.93 A153.5,153.5 0 0 1 1039.82,1387.23 L1043.97,1429.53 A111,111 0 0 0 1035.14,1430.75 Z" fill="#c8414c" stroke="#1c1c1c" stroke-width="2.2"/><path d="M1039.82,1387.23 A153.5,153.5 0 0 1 1045.70,1386.77 L1048.22,1429.20 A111,111 0 0 0 1043.97,1429.53 Z" fill="#3ec0b8" stroke="#1c1c1c" stroke-width="2.2"/><path d="M1045.70,1386.77 A153.5,153.5 0 0 1 1047.84,1386.66 L1049.76,1429.11 A111,111 0 0 0 1048.22,1429.20 Z" fill="#8cc43f" stroke="#1c1c1c" stroke-width="2.2"/><path d="M1047.84,1386.66 A153.5,153.5 0 0 1 1049.18,1386.60 L1050.73,1429.07 A111,111 0 0 0 1049.76,1429.11 Z" fill="#7b3fc6" stroke="#1c1c1c" stroke-width="2.2"/><circle cx="1054.8" cy="1540" r="154.5" fill="none" stroke="#1a1a1a" stroke-width="2"/><circle cx="1054.8" cy="1540" r="110" fill="none" stroke="#1e1e1e" stroke-width="2"/><circle cx="1250.4" cy="1332.5" r="13.5" fill="#5a5a5a"/><polyline points="1247.4,1326.5 1253.9,1332.5 1247.4,1338.5" fill="none" stroke="#262626" stroke-width="4.2" stroke-linejoin="miter"/><circle cx="1288.3" cy="1327.4" r="10.5" fill="#8e43c2"/><text x="1305.8" y="1335.8000000000002" font-size="24.6" fill="#cfcfcf" font-weight="normal" text-anchor="start" >mssqld</text><circle cx="1288.3" cy="1365.5" r="10.5" fill="#c242a6"/><text x="1305.8" y="1373.9" font-size="24.6" fill="#cfcfcf" font-weight="normal" text-anchor="start" >httpd</text><circle cx="1288.3" cy="1403.6000000000001" r="10.5" fill="#43be58"/><text x="1305.8" y="1412.0000000000002" font-size="24.6" fill="#cfcfcf" font-weight="normal" text-anchor="start" >mysqld</text><circle cx="1288.3" cy="1441.7" r="10.5" fill="#cca048"/><text x="1305.8" y="1450.1000000000001" font-size="24.6" fill="#cfcfcf" font-weight="normal" text-anchor="start" >ftpd</text><circle cx="1288.3" cy="1479.8000000000002" r="10.5" fill="#4169cc"/><text x="1305.8" y="1488.2000000000003" font-size="24.6" fill="#cfcfcf" font-weight="normal" text-anchor="start" >mongod</text><circle cx="1288.3" cy="1517.9" r="10.5" fill="#c8414c"/><text x="1305.8" y="1526.3000000000002" font-size="24.6" fill="#cfcfcf" font-weight="normal" text-anchor="start" >TftpServerHandler</text><circle cx="1288.3" cy="1556.0" r="10.5" fill="#3ec0b8"/><text x="1305.8" y="1564.4" font-size="24.6" fill="#cfcfcf" font-weight="normal" text-anchor="start" >pptpd</text><circle cx="1288.3" cy="1594.1000000000001" r="10.5" fill="#8cc43f"/><text x="1305.8" y="1602.5000000000002" font-size="24.6" fill="#cfcfcf" font-weight="normal" text-anchor="start" >mqttd</text><circle cx="1288.3" cy="1632.2" r="10.5" fill="#7b3fc6"/><text x="1305.8" y="1640.6000000000001" font-size="24.6" fill="#cfcfcf" font-weight="normal" text-anchor="start" >ftpdatalisten</text><circle cx="1288.3" cy="1670.3000000000002" r="10.5" fill="#c63f7c"/><text x="1305.8" y="1678.7000000000003" font-size="24.6" fill="#cfcfcf" font-weight="normal" text-anchor="start" >SipSession</text><path d="M1797.00,1386.50 A153.5,153.5 0 1 1 1787.09,1693.18 L1789.84,1650.77 A111,111 0 1 0 1797.00,1429.00 Z" fill="#41be89" stroke="#1c1c1c" stroke-width="2.2"/><path d="M1787.09,1693.18 A153.5,153.5 0 0 1 1658.80,1606.81 L1697.06,1588.31 A111,111 0 0 0 1789.84,1650.77 Z" fill="#b8c046" stroke="#1c1c1c" stroke-width="2.2"/><path d="M1658.80,1606.81 A153.5,153.5 0 0 1 1644.81,1519.96 L1686.95,1525.51 A111,111 0 0 0 1697.06,1588.31 Z" fill="#4b42c6" stroke="#1c1c1c" stroke-width="2.2"/><path d="M1644.81,1519.96 A153.5,153.5 0 0 1 1661.47,1467.94 L1698.99,1487.89 A111,111 0 0 0 1686.95,1525.51 Z" fill="#c96c3f" stroke="#1c1c1c" stroke-width="2.2"/><path d="M1661.47,1467.94 A153.5,153.5 0 0 1 1685.29,1434.73 L1716.22,1463.87 A111,111 0 0 0 1698.99,1487.89 Z" fill="#3f99c8" stroke="#1c1c1c" stroke-width="2.2"/><path d="M1685.29,1434.73 A153.5,153.5 0 0 1 1713.85,1410.97 L1736.87,1446.70 A111,111 0 0 0 1716.22,1463.87 Z" fill="#58c13f" stroke="#1c1c1c" stroke-width="2.2"/><path d="M1713.85,1410.97 A153.5,153.5 0 0 1 1739.50,1397.68 L1755.42,1437.08 A111,111 0 0 0 1736.87,1446.70 Z" fill="#a73fc6" stroke="#1c1c1c" stroke-width="2.2"/><path d="M1739.50,1397.68 A153.5,153.5 0 0 1 1763.78,1390.14 L1772.98,1431.63 A111,111 0 0 0 1755.42,1437.08 Z" fill="#c63fbf" stroke="#1c1c1c" stroke-width="2.2"/><path d="M1763.78,1390.14 A153.5,153.5 0 0 1 1779.89,1387.46 L1784.63,1429.69 A111,111 0 0 0 1772.98,1431.63 Z" fill="#3fc64a" stroke="#1c1c1c" stroke-width="2.2"/><path d="M1779.89,1387.46 A153.5,153.5 0 0 1 1795.12,1386.51 L1795.64,1429.01 A111,111 0 0 0 1784.63,1429.69 Z" fill="#c9943f" stroke="#1c1c1c" stroke-width="2.2"/><circle cx="1797" cy="1540" r="154.5" fill="none" stroke="#1a1a1a" stroke-width="2"/><circle cx="1797" cy="1540" r="110" fill="none" stroke="#1e1e1e" stroke-width="2"/><circle cx="1992.6" cy="1332.5" r="13.5" fill="#5a5a5a"/><polyline points="1989.6,1326.5 1996.1,1332.5 1989.6,1338.5" fill="none" stroke="#262626" stroke-width="4.2" stroke-linejoin="miter"/><circle cx="2030.5" cy="1327.4" r="10.5" fill="#41be89"/><text x="2048" y="1335.8000000000002" font-size="24.6" fill="#cfcfcf" font-weight="normal" text-anchor="start" >China</text><circle cx="2030.5" cy="1365.5" r="10.5" fill="#b8c046"/><text x="2048" y="1373.9" font-size="24.6" fill="#cfcfcf" font-weight="normal" text-anchor="start" >United States</text><circle cx="2030.5" cy="1403.6000000000001" r="10.5" fill="#4b42c6"/><text x="2048" y="1412.0000000000002" font-size="24.6" fill="#cfcfcf" font-weight="normal" text-anchor="start" >Republic of Korea</text><circle cx="2030.5" cy="1441.7" r="10.5" fill="#c96c3f"/><text x="2048" y="1450.1000000000001" font-size="24.6" fill="#cfcfcf" font-weight="normal" text-anchor="start" >Italy</text><circle cx="2030.5" cy="1479.8000000000002" r="10.5" fill="#3f99c8"/><text x="2048" y="1488.2000000000003" font-size="24.6" fill="#cfcfcf" font-weight="normal" text-anchor="start" >Denmark</text><circle cx="2030.5" cy="1517.9" r="10.5" fill="#58c13f"/><text x="2048" y="1526.3000000000002" font-size="24.6" fill="#cfcfcf" font-weight="normal" text-anchor="start" >Netherlands</text><circle cx="2030.5" cy="1556.0" r="10.5" fill="#a73fc6"/><text x="2048" y="1564.4" font-size="24.6" fill="#cfcfcf" font-weight="normal" text-anchor="start" >Seychelles</text><circle cx="2030.5" cy="1594.1000000000001" r="10.5" fill="#c63fbf"/><text x="2048" y="1602.5000000000002" font-size="24.6" fill="#cfcfcf" font-weight="normal" text-anchor="start" >United Kingdom</text><circle cx="2030.5" cy="1632.2" r="10.5" fill="#3fc64a"/><text x="2048" y="1640.6000000000001" font-size="24.6" fill="#cfcfcf" font-weight="normal" text-anchor="start" >Russia</text><circle cx="2030.5" cy="1670.3000000000002" r="10.5" fill="#c9943f"/><text x="2048" y="1678.7000000000003" font-size="24.6" fill="#cfcfcf" font-weight="normal" text-anchor="start" >Japan</text><path d="M2422.0,1677.2 L2422.0,1437.9 2431.3,1401.7 2440.6,1396.2 2450.0,1408.9 2459.3,1392.4 2468.6,1440.0 2477.9,1401.7 2487.2,1406.0 2496.5,1386.0 2505.8,1408.9 2515.1,1401.7 2524.4,1383.4 2533.7,1401.7 2543.0,1442.1 2552.3,1413.6 2561.6,1446.4 2570.9,1449.8 2580.2,1424.3 2589.5,1395.3 2598.8,1443.4 2608.1,1396.2 2617.4,1396.2 2626.7,1460.0 2636.0,1423.0 2645.3,1423.0 2654.6,1456.1 2663.9,1449.8 2673.2,1390.2 2682.5,1368.6 2691.8,1401.7 2701.1,1381.3 2710.4,1368.6 2719.7,1443.4 2729.0,1449.8 2738.4,1443.4 2747.7,1449.8 2757.0,1437.0 2766.3,1449.8 2775.6,1395.3 2784.9,1332.4 2794.2,1395.3 2803.5,1465.5 2812.8,1412.3 2822.1,1446.4 2831.4,1488.0 2840.7,1442.1 2850.0,1390.2 2859.3,1340.9 2868.6,1440.0 2877.9,1428.1 2887.2,1434.5 2896.5,1516.5 2905.8,1466.3 2915.1,1457.0 2924.4,1458.3 2933.7,1460.0 2943.0,1411.1 2952.3,1373.2 2961.6,1391.9 2970.9,1423.8 L2970.9,1677.2 Z" fill="#3b8a65" fill-opacity="1.0"/><polyline points="2422.0,1437.9 2431.3,1401.7 2440.6,1396.2 2450.0,1408.9 2459.3,1392.4 2468.6,1440.0 2477.9,1401.7 2487.2,1406.0 2496.5,1386.0 2505.8,1408.9 2515.1,1401.7 2524.4,1383.4 2533.7,1401.7 2543.0,1442.1 2552.3,1413.6 2561.6,1446.4 2570.9,1449.8 2580.2,1424.3 2589.5,1395.3 2598.8,1443.4 2608.1,1396.2 2617.4,1396.2 2626.7,1460.0 2636.0,1423.0 2645.3,1423.0 2654.6,1456.1 2663.9,1449.8 2673.2,1390.2 2682.5,1368.6 2691.8,1401.7 2701.1,1381.3 2710.4,1368.6 2719.7,1443.4 2729.0,1449.8 2738.4,1443.4 2747.7,1449.8 2757.0,1437.0 2766.3,1449.8 2775.6,1395.3 2784.9,1332.4 2794.2,1395.3 2803.5,1465.5 2812.8,1412.3 2822.1,1446.4 2831.4,1488.0 2840.7,1442.1 2850.0,1390.2 2859.3,1340.9 2868.6,1440.0 2877.9,1428.1 2887.2,1434.5 2896.5,1516.5 2905.8,1466.3 2915.1,1457.0 2924.4,1458.3 2933.7,1460.0 2943.0,1411.1 2952.3,1373.2 2961.6,1391.9 2970.9,1423.8" fill="none" stroke="#45c08c" stroke-width="2.2" stroke-opacity="0.9"/><path d="M2422.0,1677.2 L2422.0,1554.8 2431.3,1520.8 2440.6,1535.6 2450.0,1554.8 2459.3,1567.5 2468.6,1554.8 2477.9,1567.5 2487.2,1522.9 2496.5,1535.6 2505.8,1544.1 2515.1,1565.4 2524.4,1544.1 2533.7,1539.9 2543.0,1586.7 2552.3,1508.0 2561.6,1599.4 2570.9,1573.9 2580.2,1556.9 2589.5,1539.9 2598.8,1554.8 2608.1,1556.9 2617.4,1550.5 2626.7,1516.5 2636.0,1554.8 2645.3,1546.3 2654.6,1546.3 2663.9,1525.0 2673.2,1510.1 2682.5,1503.8 2691.8,1527.1 2701.1,1493.1 2710.4,1544.1 2719.7,1510.1 2729.0,1554.8 2738.4,1537.8 2747.7,1573.9 2757.0,1432.8 2766.3,1497.4 2775.6,1516.5 2784.9,1516.5 2794.2,1512.3 2803.5,1503.8 2812.8,1516.5 2822.1,1516.5 2831.4,1510.1 2840.7,1486.8 2850.0,1539.9 2859.3,1529.3 2868.6,1582.4 2877.9,1582.4 2887.2,1554.8 2896.5,1531.4 2905.8,1486.8 2915.1,1516.5 2924.4,1595.2 2933.7,1512.3 2943.0,1535.6 2952.3,1510.1 2961.6,1461.2 2970.9,1544.1 L2970.9,1677.2 Z" fill="#b8c046" fill-opacity="0.62"/><polyline points="2422.0,1554.8 2431.3,1520.8 2440.6,1535.6 2450.0,1554.8 2459.3,1567.5 2468.6,1554.8 2477.9,1567.5 2487.2,1522.9 2496.5,1535.6 2505.8,1544.1 2515.1,1565.4 2524.4,1544.1 2533.7,1539.9 2543.0,1586.7 2552.3,1508.0 2561.6,1599.4 2570.9,1573.9 2580.2,1556.9 2589.5,1539.9 2598.8,1554.8 2608.1,1556.9 2617.4,1550.5 2626.7,1516.5 2636.0,1554.8 2645.3,1546.3 2654.6,1546.3 2663.9,1525.0 2673.2,1510.1 2682.5,1503.8 2691.8,1527.1 2701.1,1493.1 2710.4,1544.1 2719.7,1510.1 2729.0,1554.8 2738.4,1537.8 2747.7,1573.9 2757.0,1432.8 2766.3,1497.4 2775.6,1516.5 2784.9,1516.5 2794.2,1512.3 2803.5,1503.8 2812.8,1516.5 2822.1,1516.5 2831.4,1510.1 2840.7,1486.8 2850.0,1539.9 2859.3,1529.3 2868.6,1582.4 2877.9,1582.4 2887.2,1554.8 2896.5,1531.4 2905.8,1486.8 2915.1,1516.5 2924.4,1595.2 2933.7,1512.3 2943.0,1535.6 2952.3,1510.1 2961.6,1461.2 2970.9,1544.1" fill="none" stroke="#c4cc4a" stroke-width="2.2" stroke-opacity="0.9"/><path d="M2431.3,1677.2 L2431.3,1616.4 2440.6,1559.0 2450.0,1556.9 2459.3,1552.7 2468.6,1554.8 2477.9,1565.4 2487.2,1556.9 2496.5,1559.0 2505.8,1552.7 2515.1,1446.4 2524.4,1548.4 2533.7,1595.2 2543.0,1508.0 2552.3,1595.2 2561.6,1573.9 2570.9,1518.6 2580.2,1595.2 2589.5,1629.2 2598.8,1508.0 2608.1,1595.2 2617.4,1616.4 2626.7,1520.8 2636.0,1539.9 2645.3,1637.7 2654.6,1516.5 2663.9,1595.2 2673.2,1539.9 2682.5,1514.4 2691.8,1544.1 2701.1,1565.4 2710.4,1599.4 2719.7,1603.7 2729.0,1516.5 2738.4,1514.4 2747.7,1512.3 2757.0,1599.4 2766.3,1554.8 2775.6,1512.3 2784.9,1552.7 2794.2,1620.7 2803.5,1469.7 2812.8,1548.4 2822.1,1595.2 2831.4,1637.7 2840.7,1508.0 2850.0,1544.1 2859.3,1563.3 2868.6,1616.4 2877.9,1563.3 2887.2,1563.3 2896.5,1563.3 2905.8,1616.4 2915.1,1529.3 2924.4,1544.1 2933.7,1569.7 2943.0,1539.9 2952.3,1552.7 2961.6,1616.4 2970.9,1578.2 L2970.9,1677.2 Z" fill="#4b42c6" fill-opacity="0.55"/><polyline points="2431.3,1616.4 2440.6,1559.0 2450.0,1556.9 2459.3,1552.7 2468.6,1554.8 2477.9,1565.4 2487.2,1556.9 2496.5,1559.0 2505.8,1552.7 2515.1,1446.4 2524.4,1548.4 2533.7,1595.2 2543.0,1508.0 2552.3,1595.2 2561.6,1573.9 2570.9,1518.6 2580.2,1595.2 2589.5,1629.2 2598.8,1508.0 2608.1,1595.2 2617.4,1616.4 2626.7,1520.8 2636.0,1539.9 2645.3,1637.7 2654.6,1516.5 2663.9,1595.2 2673.2,1539.9 2682.5,1514.4 2691.8,1544.1 2701.1,1565.4 2710.4,1599.4 2719.7,1603.7 2729.0,1516.5 2738.4,1514.4 2747.7,1512.3 2757.0,1599.4 2766.3,1554.8 2775.6,1512.3 2784.9,1552.7 2794.2,1620.7 2803.5,1469.7 2812.8,1548.4 2822.1,1595.2 2831.4,1637.7 2840.7,1508.0 2850.0,1544.1 2859.3,1563.3 2868.6,1616.4 2877.9,1563.3 2887.2,1563.3 2896.5,1563.3 2905.8,1616.4 2915.1,1529.3 2924.4,1544.1 2933.7,1569.7 2943.0,1539.9 2952.3,1552.7 2961.6,1616.4 2970.9,1578.2" fill="none" stroke="#5148d0" stroke-width="2.2" stroke-opacity="0.9"/><path d="M2422.0,1677.2 L2422.0,1556.9 2431.3,1544.1 2440.6,1505.9 2450.0,1535.6 2459.3,1571.8 2468.6,1539.9 2477.9,1548.4 2487.2,1499.5 2496.5,1510.1 2505.8,1525.0 2515.1,1516.5 2524.4,1542.0 2533.7,1548.4 2543.0,1573.9 2552.3,1607.9 2561.6,1658.9 2570.9,1676.0 2580.2,1676.0 2589.5,1676.0 2598.8,1676.0 2608.1,1676.0 2617.4,1612.2 2626.7,1633.4 2636.0,1676.0 2645.3,1676.0 2654.6,1676.0 2663.9,1676.0 2673.2,1676.0 2682.5,1676.0 2691.8,1676.0 2701.1,1676.0 2710.4,1676.0 2719.7,1676.0 2729.0,1629.2 2738.4,1676.0 2747.7,1578.2 2757.0,1676.0 2766.3,1676.0 2775.6,1676.0 2784.9,1676.0 2794.2,1676.0 2803.5,1676.0 2812.8,1676.0 2822.1,1676.0 2831.4,1676.0 2840.7,1593.0 2850.0,1676.0 2859.3,1593.0 2868.6,1676.0 2877.9,1676.0 2887.2,1676.0 2896.5,1676.0 2905.8,1676.0 2915.1,1676.0 2924.4,1676.0 2933.7,1676.0 2943.0,1676.0 2952.3,1676.0 2961.6,1676.0 2970.9,1676.0 L2970.9,1677.2 Z" fill="#c96c3f" fill-opacity="0.6"/><polyline points="2422.0,1556.9 2431.3,1544.1 2440.6,1505.9 2450.0,1535.6 2459.3,1571.8 2468.6,1539.9 2477.9,1548.4 2487.2,1499.5 2496.5,1510.1 2505.8,1525.0 2515.1,1516.5 2524.4,1542.0 2533.7,1548.4 2543.0,1573.9 2552.3,1607.9 2561.6,1658.9 2570.9,1676.0 2580.2,1676.0 2589.5,1676.0 2598.8,1676.0 2608.1,1676.0 2617.4,1612.2 2626.7,1633.4 2636.0,1676.0 2645.3,1676.0 2654.6,1676.0 2663.9,1676.0 2673.2,1676.0 2682.5,1676.0 2691.8,1676.0 2701.1,1676.0 2710.4,1676.0 2719.7,1676.0 2729.0,1629.2 2738.4,1676.0 2747.7,1578.2 2757.0,1676.0 2766.3,1676.0 2775.6,1676.0 2784.9,1676.0 2794.2,1676.0 2803.5,1676.0 2812.8,1676.0 2822.1,1676.0 2831.4,1676.0 2840.7,1593.0 2850.0,1676.0 2859.3,1593.0 2868.6,1676.0 2877.9,1676.0 2887.2,1676.0 2896.5,1676.0 2905.8,1676.0 2915.1,1676.0 2924.4,1676.0 2933.7,1676.0 2943.0,1676.0 2952.3,1676.0 2961.6,1676.0 2970.9,1676.0" fill="none" stroke="#d07040" stroke-width="2.2" stroke-opacity="0.9"/><path d="M2552.3,1677.2 L2552.3,1637.7 2561.6,1595.2 2570.9,1584.5 2580.2,1584.5 2589.5,1584.5 2598.8,1590.9 2608.1,1599.4 2617.4,1622.8 2626.7,1637.7 2636.0,1561.2 2645.3,1552.7 2654.6,1552.7 2663.9,1567.5 2673.2,1561.2 2682.5,1584.5 2691.8,1599.4 2701.1,1578.2 2710.4,1612.2 2719.7,1620.7 2729.0,1599.4 2738.4,1595.2 2747.7,1586.7 2757.0,1578.2 2766.3,1588.8 2775.6,1597.3 2784.9,1588.8 2794.2,1620.7 2803.5,1620.7 2812.8,1620.7 2822.1,1612.2 2831.4,1599.4 2840.7,1612.2 2850.0,1601.5 2859.3,1610.1 2868.6,1620.7 2877.9,1637.7 2887.2,1556.9 2896.5,1595.2 2905.8,1569.7 2915.1,1607.9 2924.4,1599.4 2933.7,1584.5 2943.0,1588.8 2952.3,1578.2 2961.6,1595.2 2970.9,1576.0 L2970.9,1677.2 Z" fill="#3f99c8" fill-opacity="0.62"/><polyline points="2552.3,1637.7 2561.6,1595.2 2570.9,1584.5 2580.2,1584.5 2589.5,1584.5 2598.8,1590.9 2608.1,1599.4 2617.4,1622.8 2626.7,1637.7 2636.0,1561.2 2645.3,1552.7 2654.6,1552.7 2663.9,1567.5 2673.2,1561.2 2682.5,1584.5 2691.8,1599.4 2701.1,1578.2 2710.4,1612.2 2719.7,1620.7 2729.0,1599.4 2738.4,1595.2 2747.7,1586.7 2757.0,1578.2 2766.3,1588.8 2775.6,1597.3 2784.9,1588.8 2794.2,1620.7 2803.5,1620.7 2812.8,1620.7 2822.1,1612.2 2831.4,1599.4 2840.7,1612.2 2850.0,1601.5 2859.3,1610.1 2868.6,1620.7 2877.9,1637.7 2887.2,1556.9 2896.5,1595.2 2905.8,1569.7 2915.1,1607.9 2924.4,1599.4 2933.7,1584.5 2943.0,1588.8 2952.3,1578.2 2961.6,1595.2 2970.9,1576.0" fill="none" stroke="#45a5d5" stroke-width="2.2" stroke-opacity="0.9"/><path d="M2431.3,1677.2 L2431.3,1637.7 2440.6,1563.3 2450.0,1559.0 2459.3,1567.5 2468.6,1554.8 2477.9,1565.4 2487.2,1561.2 2496.5,1556.9 2505.8,1637.7 2515.1,1552.7 2524.4,1637.7 2533.7,1546.3 2543.0,1552.7 2552.3,1595.2 L2552.3,1677.2 Z" fill="#9d6863" fill-opacity="1.0"/><path d="M2552.3,1677.2 L2552.3,1637.7 2561.6,1620.7 2570.9,1612.2 2580.2,1637.7 2589.5,1593.0 2598.8,1593.0 2608.1,1620.7 2617.4,1612.2 2626.7,1637.7 2636.0,1620.7 2645.3,1622.8 2654.6,1622.8 2663.9,1622.8 2673.2,1599.4 2682.5,1582.4 2691.8,1599.4 2701.1,1629.2 2710.4,1595.2 2719.7,1612.2 2729.0,1637.7 2738.4,1582.4 2747.7,1599.4 2757.0,1637.7 2766.3,1622.8 2775.6,1620.7 2784.9,1616.4 2794.2,1612.2 2803.5,1612.2 2812.8,1637.7 2822.1,1612.2 2831.4,1607.9 2840.7,1612.2 2850.0,1603.7 2859.3,1607.9 2868.6,1637.7 2877.9,1637.7 2887.2,1637.7 2896.5,1612.2 2905.8,1637.7 2915.1,1637.7 2924.4,1637.7 2933.7,1637.7 2943.0,1624.9 2952.3,1612.2 2961.6,1637.7 2970.9,1612.2 L2970.9,1677.2 Z" fill="#6b849a" fill-opacity="1.0"/><path d="M2409.5,1317.5 H2422 V1677.2 H2409.5" fill="none" stroke="#e0e0e0" stroke-width="2"/><line x1="2409.5" y1="1338.8" x2="2422" y2="1338.8" stroke="#e0e0e0" stroke-width="2"/><text x="2404" y="1346.7925170068027" font-size="21.6" fill="#c4c4c4" font-weight="normal" text-anchor="end" >80</text><line x1="2409.5" y1="1383.9" x2="2422" y2="1383.9" stroke="#e0e0e0" stroke-width="2"/><text x="2404" y="1391.860544217687" font-size="21.6" fill="#c4c4c4" font-weight="normal" text-anchor="end" >60</text><line x1="2409.5" y1="1437.9" x2="2422" y2="1437.9" stroke="#e0e0e0" stroke-width="2"/><text x="2404" y="1445.857142857143" font-size="21.6" fill="#c4c4c4" font-weight="normal" text-anchor="end" >40</text><line x1="2409.5" y1="1508.0" x2="2422" y2="1508.0" stroke="#e0e0e0" stroke-width="2"/><text x="2404" y="1516.0102040816328" font-size="21.6" fill="#c4c4c4" font-weight="normal" text-anchor="end" >20</text><text x="2404" y="1685.2" font-size="21.6" fill="#c4c4c4" font-weight="normal" text-anchor="end" >0</text><path d="M2422,1690 V1677.2 H2980 V1690" fill="none" stroke="#e0e0e0" stroke-width="2"/><line x1="2609" y1="1677.2" x2="2609" y2="1690" stroke="#e0e0e0" stroke-width="2"/><line x1="2868.5" y1="1677.2" x2="2868.5" y2="1690" stroke="#e0e0e0" stroke-width="2"/><text x="2609" y="1710.5" font-size="21.6" fill="#c4c4c4" font-weight="normal" text-anchor="middle" >2018-11-04 01:00</text><text x="2868.5" y="1710.5" font-size="21.6" fill="#c4c4c4" font-weight="normal" text-anchor="middle" >2018-11-18 01:00</text><text x="2698" y="1749" font-size="25.2" fill="#c8c8c8" font-weight="bold" text-anchor="middle" >Timestamp</text><circle cx="3004" cy="1332.4" r="13.5" fill="#5a5a5a"/><polyline points="3001,1326.4 3007.5,1332.4 3001,1338.4" fill="none" stroke="#262626" stroke-width="4.2" stroke-linejoin="miter"/><circle cx="3042" cy="1327.4" r="10.5" fill="#41be89"/><text x="3059.8" y="1335.8000000000002" font-size="24.6" fill="#cfcfcf" font-weight="normal" text-anchor="start" >China</text><circle cx="3042" cy="1365.5" r="10.5" fill="#b8c046"/><text x="3059.8" y="1373.9" font-size="24.6" fill="#cfcfcf" font-weight="normal" text-anchor="start" >United States</text><circle cx="3042" cy="1403.6000000000001" r="10.5" fill="#4b42c6"/><text x="3059.8" y="1412.0000000000002" font-size="24.6" fill="#cfcfcf" font-weight="normal" text-anchor="start" >Republic of Korea</text><circle cx="3042" cy="1441.7" r="10.5" fill="#c96c3f"/><text x="3059.8" y="1450.1000000000001" font-size="24.6" fill="#cfcfcf" font-weight="normal" text-anchor="start" >Italy</text><circle cx="3042" cy="1479.8000000000002" r="10.5" fill="#3f99c8"/><text x="3059.8" y="1488.2000000000003" font-size="24.6" fill="#cfcfcf" font-weight="normal" text-anchor="start" >Denmark</text></svg>
<div style="position:absolute;left:106px;top:0;width:3254px;height:154px;background:#333"></div>
<div style="position:absolute;left:106px;top:154px;width:3254px;height:2px;background:#1c1c1c"></div>
<div style="position:absolute;left:106px;top:156px;width:3254px;height:74px;background:#333"></div>
<div style="position:absolute;left:106px;top:230px;width:3254px;height:2px;background:#050505"></div>
<div style="position:absolute;left:128px;top:60px;width:2969px;height:76px;background:#1c1c1c;box-shadow:0 2px 2px rgba(0,0,0,0.25)"></div>
<div style="position:absolute;left:3116px;top:58px;width:224px;height:80px;background:#4097bc;border-radius:6px"></div>
<svg style="position:absolute;left:0;top:0" width="3360" height="240" viewBox="0 0 3360 240" font-family='"Liberation Sans", sans-serif'><text x="127" y="40.4" font-size="29" fill="#4da1c0" font-weight="normal" text-anchor="start" >Dashboard</text><text x="283" y="40.4" font-size="29" fill="#aaa" font-weight="normal" text-anchor="start" >/</text><text x="308" y="40.4" font-size="29" fill="#ddd" font-weight="normal" text-anchor="start" >Dionaea</text><text x="2261" y="40.4" font-size="28.3" fill="#dcdcdc" font-weight="normal" text-anchor="start" textLength="138" lengthAdjust="spacingAndGlyphs">Full screen</text><text x="2444" y="40.4" font-size="28.3" fill="#dcdcdc" font-weight="normal" text-anchor="start" textLength="74" lengthAdjust="spacingAndGlyphs">Share</text><text x="2564" y="40.4" font-size="28.3" fill="#dcdcdc" font-weight="normal" text-anchor="start" textLength="73" lengthAdjust="spacingAndGlyphs">Clone</text><text x="2683" y="40.4" font-size="28.3" fill="#dcdcdc" font-weight="normal" text-anchor="start" textLength="48" lengthAdjust="spacingAndGlyphs">Edit</text><text x="2806.6" y="40.4" font-size="28.3" fill="#dcdcdc" font-weight="normal" text-anchor="start" textLength="164" lengthAdjust="spacingAndGlyphs">Auto-refresh</text><text x="3115.2" y="40.4" font-size="28.3" fill="#dcdcdc" font-weight="normal" text-anchor="start" textLength="158.4" lengthAdjust="spacingAndGlyphs">Last 30 days</text><path d="M2796.5,23.5 A11,11 0 1 0 2798.5,35" fill="none" stroke="#dcdcdc" stroke-width="4.2"/><path d="M2799.6,17.8 L2799.6,29 L2788.5,29 Z" fill="#dcdcdc"/><polyline points="3033,21 3022,30 3033,39" fill="none" stroke="#dcdcdc" stroke-width="5.5" stroke-linejoin="miter" stroke-linecap="round"/><polyline points="3321,21 3332,30 3321,39" fill="none" stroke="#dcdcdc" stroke-width="5.5" stroke-linejoin="miter" stroke-linecap="round"/><circle cx="3091.6" cy="30.3" r="10.3" fill="none" stroke="#dcdcdc" stroke-width="3.3"/><polyline points="3091.6,23.5 3091.6,31.5 3085.5,31.5" fill="none" stroke="#dcdcdc" stroke-width="2.6"/><polyline points="152.5,90.5 162.5,99.5 152.5,108.5" fill="none" stroke="#ddd" stroke-width="1.8"/><rect x="167.5" y="106.5" width="12" height="2" fill="#ddd"/><text x="205.5" y="111" font-size="33" fill="#eee" font-weight="bold" text-anchor="start" >*</text><text x="2967" y="110.5" font-size="28.8" fill="#4da1c0" font-weight="normal" text-anchor="start" textLength="102" lengthAdjust="spacingAndGlyphs">Options</text><text x="3178" y="107.5" font-size="28.8" fill="#111" font-weight="normal" text-anchor="start" textLength="99" lengthAdjust="spacingAndGlyphs">Refresh</text><rect x="3178" y="110" width="99.5" height="2" fill="#111"/><text x="133.9" y="201.8" font-size="26" fill="#4da1c0" font-weight="normal" text-anchor="start" textLength="128" lengthAdjust="spacingAndGlyphs">Add a filter</text><path d="M276.1,182 h6.6 v6.7 h6.6 v6.6 h-6.6 v6.7 h-6.6 v-6.7 h-6.6 v-6.6 h6.6 z" fill="#4da1c0"/></svg>
<div style="position:absolute;left:0;top:0;width:106px;height:1736px;background:#e20074"></div>
<div style="position:absolute;left:0;top:296px;width:106px;height:75.7px;background:#9c0050"></div>
<svg style="position:absolute;left:0;top:0" width="106" height="1736" viewBox="0 0 106 1736"><path fill="#fff" d="M20.1,31.3 H89.3 V59 H85.0 C84,46 78,36 61.7,35.4 V96 C61.7,101.5 64,104 70,104 H76 V108.7 H33.3 V104 H39 C45,104 47.3,101.5 47.3,96 V35.4 C31,36 25,46 24.1,59 H20.1 Z M20.1,67 H36.9 V82.5 H20.1 Z M72.2,67 H89.3 V82.5 H72.2 Z"/><circle cx="54" cy="178" r="16" fill="none" stroke="#fff" stroke-width="4.2"/><path fill="#fff" d="M45.5,186.5 L50.6,174.6 L63,169 L57.4,181.4 Z"/><circle cx="54" cy="178" r="2" fill="#e20074"/><path fill="#fff" d="M35.8,236 H40.5 V262.7 H72 V267.5 H35.8 Z M44.9,244.6 H53.9 V258.8 H44.9 Z M58.3,236 H67.6 V258.8 H58.3 Z"/><circle cx="54" cy="329.7" r="16" fill="none" stroke="#fff" stroke-width="4.2"/><line x1="47" y1="326.7" x2="54" y2="334.7" stroke="#fff" stroke-width="3.6" stroke-linecap="round"/><circle cx="54" cy="334.2" r="4.3" fill="#fff"/><circle cx="54" cy="322.7" r="2.3" fill="#fff"/><circle cx="61" cy="327.4" r="2.3" fill="#fff"/><path fill="#fff" d="M37,393 C40,390.5 44,391 46,393.5 C50,392.5 58,392.5 62,393.5 C64,391 68,390.5 71,393 C72.5,395 72,398.5 70.5,400 C71.5,404 71.5,408 70,412 C67,418 61,420.5 54,420.5 C47,420.5 41,418 38,412 C36.5,408 36.5,404 37.5,400 C36,398.5 35.5,395 37,393 Z"/><path fill="#e20074" d="M42,399 L49,401 L46,403 Z M66,399 L59,401 L62,403 Z M50.5,404.5 H57.5 L54,407.5 Z M48.5,414 C48.5,410 51,408.5 54,408.5 C57,408.5 59.5,410 59.5,414 Z"/><path fill="#fff" d="M62.5,464.5 C56,465.5 52,471 53.5,477.5 L37.5,492.5 C35,495 35.5,498.5 38,499.5 C40,500.5 42,500 43.5,498.5 L59,483 C65.5,485 72,480 72,473.5 L72,472.5 L67,477 L61.5,476 L60,470.5 L65,465.5 Z"/><circle cx="40" cy="496" r="2" fill="#e20074"/><path fill="#fff" d="M54,575.5 L38,560.5 C34,556.5 35,549 40.5,546 C45.5,543.2 51,545 54,549.5 C57,545 62.5,543.2 67.5,546 C73,549 74,556.5 70,560.5 Z"/><polyline fill="none" stroke="#e20074" stroke-width="1.8" points="37,561 45,561 47.5,556 50.5,566 54,552 57,563 59,559.5 71,559.5"/><polygon fill="#fff" points="72.00,633.30 71.65,636.81 66.47,638.47 65.22,640.80 66.73,646.03 64.00,648.27 59.17,645.77 56.63,646.54 54.00,651.30 50.49,650.95 48.83,645.77 46.50,644.52 41.27,646.03 39.03,643.30 41.53,638.47 40.76,635.93 36.00,633.30 36.35,629.79 41.53,628.13 42.78,625.80 41.27,620.57 44.00,618.33 48.83,620.83 51.37,620.06 54.00,615.30 57.51,615.65 59.17,620.83 61.50,622.08 66.73,620.57 68.97,623.30 66.47,628.13 67.24,630.67" transform="rotate(-11 54 633.3)"/><circle cx="54" cy="633.3" r="6" fill="#e20074"/><circle cx="54" cy="1698" r="18" fill="#fff"/><path fill="#e20074" d="M49.5,1689.5 L62.5,1698 L49.5,1706.7 Z"/></svg>
</body></html>
